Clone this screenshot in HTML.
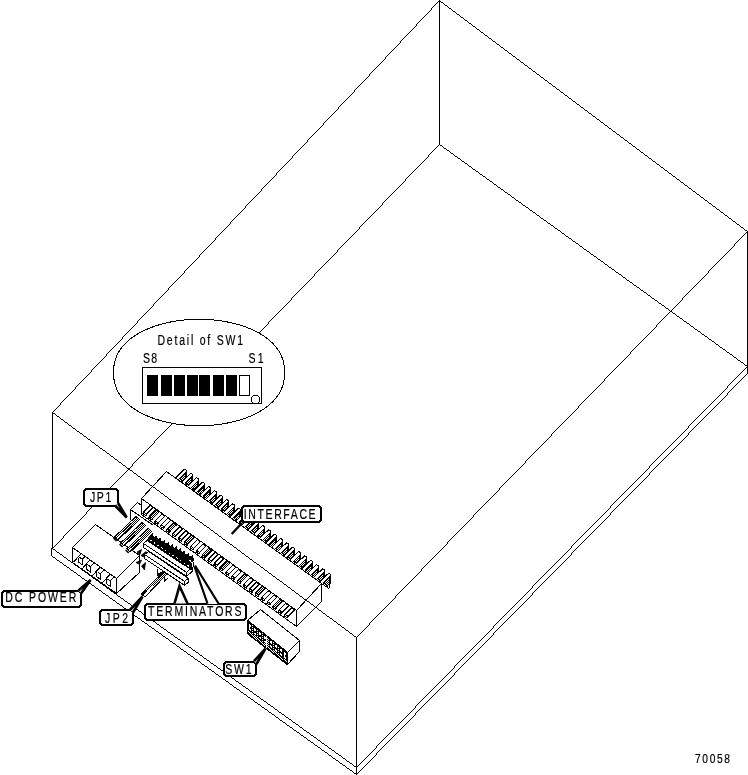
<!DOCTYPE html>
<html><head><meta charset="utf-8">
<style>
html,body{margin:0;padding:0;background:#fff;}
body{width:748px;height:775px;overflow:hidden;}
svg{display:block;will-change:transform;}
text{font-family:"Liberation Sans",sans-serif;fill:#000;stroke:#000;stroke-width:0.2px;}
</style></head>
<body>
<svg width="748" height="775" viewBox="0 0 748 775">
<defs>
<pattern id="dith" width="2" height="2" patternUnits="userSpaceOnUse"><rect width="2" height="2" fill="#fff"/><rect width="1" height="1" fill="#000"/><rect x="1" y="1" width="1" height="1" fill="#000"/></pattern>
</defs>
<rect width="748" height="775" fill="#fff"/>
<path fill="#000" d="M439 0h1v1h-1zM438 1h3v1h-3zM437 2h1v1h-1zM439 2h1v1h-1zM441 2h2v1h-2zM436 3h1v1h-1zM439 3h1v1h-1zM443 3h1v1h-1zM435 4h1v1h-1zM439 4h1v1h-1zM444 4h1v1h-1zM434 5h1v1h-1zM439 5h1v1h-1zM445 5h2v1h-2zM433 6h1v1h-1zM439 6h1v1h-1zM447 6h1v1h-1zM432 7h1v1h-1zM439 7h1v1h-1zM448 7h1v1h-1zM431 8h1v1h-1zM439 8h1v1h-1zM449 8h2v1h-2zM431 9h1v1h-1zM439 9h1v1h-1zM451 9h1v1h-1zM430 10h1v1h-1zM439 10h1v1h-1zM452 10h1v1h-1zM429 11h1v1h-1zM439 11h1v1h-1zM453 11h2v1h-2zM428 12h1v1h-1zM439 12h1v1h-1zM455 12h1v1h-1zM427 13h1v1h-1zM439 13h1v1h-1zM456 13h1v1h-1zM426 14h1v1h-1zM439 14h1v1h-1zM457 14h2v1h-2zM425 15h1v1h-1zM439 15h1v1h-1zM459 15h1v1h-1zM424 16h1v1h-1zM439 16h1v1h-1zM460 16h1v1h-1zM423 17h1v1h-1zM439 17h1v1h-1zM461 17h2v1h-2zM422 18h1v1h-1zM439 18h1v1h-1zM463 18h1v1h-1zM421 19h1v1h-1zM439 19h1v1h-1zM464 19h1v1h-1zM420 20h1v1h-1zM439 20h1v1h-1zM465 20h2v1h-2zM419 21h1v1h-1zM439 21h1v1h-1zM467 21h1v1h-1zM418 22h1v1h-1zM439 22h1v1h-1zM468 22h1v1h-1zM417 23h1v1h-1zM439 23h1v1h-1zM469 23h2v1h-2zM416 24h1v1h-1zM439 24h1v1h-1zM471 24h1v1h-1zM416 25h1v1h-1zM439 25h1v1h-1zM472 25h1v1h-1zM415 26h1v1h-1zM439 26h1v1h-1zM473 26h2v1h-2zM414 27h1v1h-1zM439 27h1v1h-1zM475 27h1v1h-1zM413 28h1v1h-1zM439 28h1v1h-1zM476 28h1v1h-1zM412 29h1v1h-1zM439 29h1v1h-1zM477 29h2v1h-2zM411 30h1v1h-1zM439 30h1v1h-1zM479 30h1v1h-1zM410 31h1v1h-1zM439 31h1v1h-1zM480 31h1v1h-1zM409 32h1v1h-1zM439 32h1v1h-1zM481 32h2v1h-2zM408 33h1v1h-1zM439 33h1v1h-1zM483 33h1v1h-1zM407 34h1v1h-1zM439 34h1v1h-1zM484 34h1v1h-1zM406 35h1v1h-1zM439 35h1v1h-1zM485 35h2v1h-2zM405 36h1v1h-1zM439 36h1v1h-1zM487 36h1v1h-1zM404 37h1v1h-1zM439 37h1v1h-1zM488 37h1v1h-1zM403 38h1v1h-1zM439 38h1v1h-1zM489 38h2v1h-2zM402 39h1v1h-1zM439 39h1v1h-1zM491 39h1v1h-1zM401 40h1v1h-1zM439 40h1v1h-1zM492 40h1v1h-1zM400 41h1v1h-1zM439 41h1v1h-1zM493 41h2v1h-2zM400 42h1v1h-1zM439 42h1v1h-1zM495 42h1v1h-1zM399 43h1v1h-1zM439 43h1v1h-1zM496 43h1v1h-1zM398 44h1v1h-1zM439 44h1v1h-1zM497 44h2v1h-2zM397 45h1v1h-1zM439 45h1v1h-1zM499 45h1v1h-1zM396 46h1v1h-1zM439 46h1v1h-1zM500 46h1v1h-1zM395 47h1v1h-1zM439 47h1v1h-1zM501 47h2v1h-2zM394 48h1v1h-1zM439 48h1v1h-1zM503 48h1v1h-1zM393 49h1v1h-1zM439 49h1v1h-1zM504 49h1v1h-1zM392 50h1v1h-1zM439 50h1v1h-1zM505 50h2v1h-2zM391 51h1v1h-1zM439 51h1v1h-1zM507 51h1v1h-1zM390 52h1v1h-1zM439 52h1v1h-1zM508 52h1v1h-1zM389 53h1v1h-1zM439 53h1v1h-1zM509 53h2v1h-2zM388 54h1v1h-1zM439 54h1v1h-1zM511 54h1v1h-1zM387 55h1v1h-1zM439 55h1v1h-1zM512 55h1v1h-1zM386 56h1v1h-1zM439 56h1v1h-1zM513 56h2v1h-2zM385 57h1v1h-1zM439 57h1v1h-1zM515 57h1v1h-1zM385 58h1v1h-1zM439 58h1v1h-1zM516 58h1v1h-1zM384 59h1v1h-1zM439 59h1v1h-1zM517 59h2v1h-2zM383 60h1v1h-1zM439 60h1v1h-1zM519 60h1v1h-1zM382 61h1v1h-1zM439 61h1v1h-1zM520 61h1v1h-1zM381 62h1v1h-1zM439 62h1v1h-1zM521 62h2v1h-2zM380 63h1v1h-1zM439 63h1v1h-1zM523 63h1v1h-1zM379 64h1v1h-1zM439 64h1v1h-1zM524 64h1v1h-1zM378 65h1v1h-1zM439 65h1v1h-1zM525 65h2v1h-2zM377 66h1v1h-1zM439 66h1v1h-1zM527 66h1v1h-1zM376 67h1v1h-1zM439 67h1v1h-1zM528 67h1v1h-1zM375 68h1v1h-1zM439 68h1v1h-1zM529 68h2v1h-2zM374 69h1v1h-1zM439 69h1v1h-1zM531 69h1v1h-1zM373 70h1v1h-1zM439 70h1v1h-1zM532 70h1v1h-1zM372 71h1v1h-1zM439 71h1v1h-1zM533 71h2v1h-2zM371 72h1v1h-1zM439 72h1v1h-1zM535 72h1v1h-1zM370 73h1v1h-1zM439 73h1v1h-1zM536 73h1v1h-1zM369 74h1v1h-1zM439 74h1v1h-1zM537 74h2v1h-2zM369 75h1v1h-1zM439 75h1v1h-1zM539 75h1v1h-1zM368 76h1v1h-1zM439 76h1v1h-1zM540 76h1v1h-1zM367 77h1v1h-1zM439 77h1v1h-1zM541 77h2v1h-2zM366 78h1v1h-1zM439 78h1v1h-1zM543 78h1v1h-1zM365 79h1v1h-1zM439 79h1v1h-1zM544 79h1v1h-1zM364 80h1v1h-1zM439 80h1v1h-1zM545 80h2v1h-2zM363 81h1v1h-1zM439 81h1v1h-1zM547 81h1v1h-1zM362 82h1v1h-1zM439 82h1v1h-1zM548 82h1v1h-1zM361 83h1v1h-1zM439 83h1v1h-1zM549 83h2v1h-2zM360 84h1v1h-1zM439 84h1v1h-1zM551 84h1v1h-1zM359 85h1v1h-1zM439 85h1v1h-1zM552 85h1v1h-1zM358 86h1v1h-1zM439 86h1v1h-1zM553 86h2v1h-2zM357 87h1v1h-1zM439 87h1v1h-1zM555 87h1v1h-1zM356 88h1v1h-1zM439 88h1v1h-1zM556 88h1v1h-1zM355 89h1v1h-1zM439 89h1v1h-1zM557 89h2v1h-2zM354 90h1v1h-1zM439 90h1v1h-1zM559 90h1v1h-1zM354 91h1v1h-1zM439 91h1v1h-1zM560 91h1v1h-1zM353 92h1v1h-1zM439 92h1v1h-1zM561 92h2v1h-2zM352 93h1v1h-1zM439 93h1v1h-1zM563 93h1v1h-1zM351 94h1v1h-1zM439 94h1v1h-1zM564 94h1v1h-1zM350 95h1v1h-1zM439 95h1v1h-1zM565 95h2v1h-2zM349 96h1v1h-1zM439 96h1v1h-1zM567 96h1v1h-1zM348 97h1v1h-1zM439 97h1v1h-1zM568 97h1v1h-1zM347 98h1v1h-1zM439 98h1v1h-1zM569 98h2v1h-2zM346 99h1v1h-1zM439 99h1v1h-1zM571 99h1v1h-1zM345 100h1v1h-1zM439 100h1v1h-1zM572 100h1v1h-1zM344 101h1v1h-1zM439 101h1v1h-1zM573 101h2v1h-2zM343 102h1v1h-1zM439 102h1v1h-1zM575 102h1v1h-1zM342 103h1v1h-1zM439 103h1v1h-1zM576 103h1v1h-1zM341 104h1v1h-1zM439 104h1v1h-1zM577 104h2v1h-2zM340 105h1v1h-1zM439 105h1v1h-1zM579 105h1v1h-1zM339 106h1v1h-1zM439 106h1v1h-1zM580 106h1v1h-1zM338 107h1v1h-1zM439 107h1v1h-1zM581 107h2v1h-2zM338 108h1v1h-1zM439 108h1v1h-1zM583 108h1v1h-1zM337 109h1v1h-1zM439 109h1v1h-1zM584 109h1v1h-1zM336 110h1v1h-1zM439 110h1v1h-1zM585 110h2v1h-2zM335 111h1v1h-1zM439 111h1v1h-1zM587 111h1v1h-1zM334 112h1v1h-1zM439 112h1v1h-1zM588 112h1v1h-1zM333 113h1v1h-1zM439 113h1v1h-1zM589 113h2v1h-2zM332 114h1v1h-1zM439 114h1v1h-1zM591 114h1v1h-1zM331 115h1v1h-1zM439 115h1v1h-1zM592 115h1v1h-1zM330 116h1v1h-1zM439 116h1v1h-1zM593 116h2v1h-2zM329 117h1v1h-1zM439 117h1v1h-1zM595 117h1v1h-1zM328 118h1v1h-1zM439 118h1v1h-1zM596 118h1v1h-1zM327 119h1v1h-1zM439 119h1v1h-1zM597 119h2v1h-2zM326 120h1v1h-1zM439 120h1v1h-1zM599 120h1v1h-1zM325 121h1v1h-1zM439 121h1v1h-1zM600 121h1v1h-1zM324 122h1v1h-1zM439 122h1v1h-1zM601 122h2v1h-2zM323 123h1v1h-1zM439 123h1v1h-1zM603 123h1v1h-1zM323 124h1v1h-1zM439 124h1v1h-1zM604 124h1v1h-1zM322 125h1v1h-1zM439 125h1v1h-1zM605 125h2v1h-2zM321 126h1v1h-1zM439 126h1v1h-1zM607 126h1v1h-1zM320 127h1v1h-1zM439 127h1v1h-1zM608 127h1v1h-1zM319 128h1v1h-1zM439 128h1v1h-1zM609 128h2v1h-2zM318 129h1v1h-1zM439 129h1v1h-1zM611 129h1v1h-1zM317 130h1v1h-1zM439 130h1v1h-1zM612 130h1v1h-1zM316 131h1v1h-1zM439 131h1v1h-1zM613 131h2v1h-2zM315 132h1v1h-1zM439 132h1v1h-1zM615 132h1v1h-1zM314 133h1v1h-1zM439 133h1v1h-1zM616 133h1v1h-1zM313 134h1v1h-1zM439 134h1v1h-1zM617 134h2v1h-2zM312 135h1v1h-1zM439 135h1v1h-1zM619 135h1v1h-1zM311 136h1v1h-1zM439 136h1v1h-1zM620 136h1v1h-1zM310 137h1v1h-1zM439 137h1v1h-1zM621 137h2v1h-2zM309 138h1v1h-1zM439 138h1v1h-1zM623 138h1v1h-1zM308 139h1v1h-1zM439 139h1v1h-1zM624 139h1v1h-1zM307 140h1v1h-1zM439 140h1v1h-1zM625 140h2v1h-2zM307 141h1v1h-1zM439 141h1v1h-1zM627 141h1v1h-1zM306 142h1v1h-1zM439 142h1v1h-1zM628 142h1v1h-1zM305 143h1v1h-1zM439 143h1v1h-1zM629 143h2v1h-2zM304 144h1v1h-1zM439 144h1v1h-1zM631 144h1v1h-1zM303 145h1v1h-1zM438 145h1v1h-1zM440 145h2v1h-2zM632 145h1v1h-1zM302 146h1v1h-1zM437 146h1v1h-1zM442 146h1v1h-1zM633 146h2v1h-2zM301 147h1v1h-1zM436 147h1v1h-1zM443 147h1v1h-1zM635 147h1v1h-1zM300 148h1v1h-1zM435 148h1v1h-1zM444 148h2v1h-2zM636 148h1v1h-1zM299 149h1v1h-1zM434 149h1v1h-1zM446 149h1v1h-1zM637 149h2v1h-2zM298 150h1v1h-1zM433 150h1v1h-1zM447 150h2v1h-2zM639 150h1v1h-1zM297 151h1v1h-1zM432 151h1v1h-1zM449 151h1v1h-1zM640 151h1v1h-1zM296 152h1v1h-1zM431 152h1v1h-1zM450 152h1v1h-1zM641 152h2v1h-2zM295 153h1v1h-1zM430 153h1v1h-1zM451 153h2v1h-2zM643 153h1v1h-1zM294 154h1v1h-1zM429 154h1v1h-1zM453 154h1v1h-1zM644 154h1v1h-1zM293 155h1v1h-1zM428 155h1v1h-1zM454 155h1v1h-1zM645 155h2v1h-2zM292 156h1v1h-1zM428 156h1v1h-1zM455 156h2v1h-2zM647 156h1v1h-1zM292 157h1v1h-1zM427 157h1v1h-1zM457 157h1v1h-1zM648 157h1v1h-1zM291 158h1v1h-1zM426 158h1v1h-1zM458 158h2v1h-2zM649 158h2v1h-2zM290 159h1v1h-1zM425 159h1v1h-1zM460 159h1v1h-1zM651 159h1v1h-1zM289 160h1v1h-1zM424 160h1v1h-1zM461 160h1v1h-1zM652 160h1v1h-1zM288 161h1v1h-1zM423 161h1v1h-1zM462 161h2v1h-2zM653 161h2v1h-2zM287 162h1v1h-1zM422 162h1v1h-1zM464 162h1v1h-1zM655 162h1v1h-1zM286 163h1v1h-1zM421 163h1v1h-1zM465 163h2v1h-2zM656 163h1v1h-1zM285 164h1v1h-1zM420 164h1v1h-1zM467 164h1v1h-1zM657 164h2v1h-2zM284 165h1v1h-1zM419 165h1v1h-1zM468 165h1v1h-1zM659 165h1v1h-1zM283 166h1v1h-1zM418 166h1v1h-1zM469 166h2v1h-2zM660 166h1v1h-1zM282 167h1v1h-1zM417 167h1v1h-1zM471 167h1v1h-1zM661 167h2v1h-2zM281 168h1v1h-1zM416 168h1v1h-1zM472 168h1v1h-1zM663 168h1v1h-1zM280 169h1v1h-1zM415 169h1v1h-1zM473 169h2v1h-2zM664 169h1v1h-1zM279 170h1v1h-1zM414 170h1v1h-1zM475 170h1v1h-1zM665 170h2v1h-2zM278 171h1v1h-1zM413 171h1v1h-1zM476 171h2v1h-2zM667 171h1v1h-1zM277 172h1v1h-1zM412 172h1v1h-1zM478 172h1v1h-1zM668 172h1v1h-1zM276 173h1v1h-1zM411 173h1v1h-1zM479 173h1v1h-1zM669 173h2v1h-2zM276 174h1v1h-1zM410 174h1v1h-1zM480 174h2v1h-2zM671 174h1v1h-1zM275 175h1v1h-1zM409 175h1v1h-1zM482 175h1v1h-1zM672 175h1v1h-1zM274 176h1v1h-1zM408 176h1v1h-1zM483 176h2v1h-2zM673 176h2v1h-2zM273 177h1v1h-1zM407 177h1v1h-1zM485 177h1v1h-1zM675 177h1v1h-1zM272 178h1v1h-1zM406 178h1v1h-1zM486 178h1v1h-1zM676 178h1v1h-1zM271 179h1v1h-1zM405 179h1v1h-1zM487 179h2v1h-2zM677 179h2v1h-2zM270 180h1v1h-1zM405 180h1v1h-1zM489 180h1v1h-1zM679 180h1v1h-1zM269 181h1v1h-1zM404 181h1v1h-1zM490 181h2v1h-2zM680 181h1v1h-1zM268 182h1v1h-1zM403 182h1v1h-1zM492 182h1v1h-1zM681 182h2v1h-2zM267 183h1v1h-1zM402 183h1v1h-1zM493 183h1v1h-1zM683 183h1v1h-1zM266 184h1v1h-1zM401 184h1v1h-1zM494 184h2v1h-2zM684 184h1v1h-1zM265 185h1v1h-1zM400 185h1v1h-1zM496 185h1v1h-1zM685 185h2v1h-2zM264 186h1v1h-1zM399 186h1v1h-1zM497 186h1v1h-1zM687 186h1v1h-1zM263 187h1v1h-1zM398 187h1v1h-1zM498 187h2v1h-2zM688 187h1v1h-1zM262 188h1v1h-1zM397 188h1v1h-1zM500 188h1v1h-1zM689 188h2v1h-2zM261 189h1v1h-1zM396 189h1v1h-1zM501 189h2v1h-2zM691 189h1v1h-1zM261 190h1v1h-1zM395 190h1v1h-1zM503 190h1v1h-1zM692 190h1v1h-1zM260 191h1v1h-1zM394 191h1v1h-1zM504 191h1v1h-1zM693 191h2v1h-2zM259 192h1v1h-1zM393 192h1v1h-1zM505 192h2v1h-2zM695 192h1v1h-1zM258 193h1v1h-1zM392 193h1v1h-1zM507 193h1v1h-1zM696 193h1v1h-1zM257 194h1v1h-1zM391 194h1v1h-1zM508 194h2v1h-2zM697 194h2v1h-2zM256 195h1v1h-1zM390 195h1v1h-1zM510 195h1v1h-1zM699 195h1v1h-1zM255 196h1v1h-1zM389 196h1v1h-1zM511 196h1v1h-1zM700 196h1v1h-1zM254 197h1v1h-1zM388 197h1v1h-1zM512 197h2v1h-2zM701 197h2v1h-2zM253 198h1v1h-1zM387 198h1v1h-1zM514 198h1v1h-1zM703 198h1v1h-1zM252 199h1v1h-1zM386 199h1v1h-1zM515 199h1v1h-1zM704 199h1v1h-1zM251 200h1v1h-1zM385 200h1v1h-1zM516 200h2v1h-2zM705 200h2v1h-2zM250 201h1v1h-1zM384 201h1v1h-1zM518 201h1v1h-1zM707 201h1v1h-1zM249 202h1v1h-1zM383 202h1v1h-1zM519 202h2v1h-2zM708 202h1v1h-1zM248 203h1v1h-1zM382 203h1v1h-1zM521 203h1v1h-1zM709 203h2v1h-2zM247 204h1v1h-1zM382 204h1v1h-1zM522 204h1v1h-1zM711 204h1v1h-1zM246 205h1v1h-1zM381 205h1v1h-1zM523 205h2v1h-2zM712 205h1v1h-1zM245 206h1v1h-1zM380 206h1v1h-1zM525 206h1v1h-1zM713 206h2v1h-2zM245 207h1v1h-1zM379 207h1v1h-1zM526 207h2v1h-2zM715 207h1v1h-1zM244 208h1v1h-1zM378 208h1v1h-1zM528 208h1v1h-1zM716 208h1v1h-1zM243 209h1v1h-1zM377 209h1v1h-1zM529 209h1v1h-1zM717 209h2v1h-2zM242 210h1v1h-1zM376 210h1v1h-1zM530 210h2v1h-2zM719 210h1v1h-1zM241 211h1v1h-1zM375 211h1v1h-1zM532 211h1v1h-1zM720 211h1v1h-1zM240 212h1v1h-1zM374 212h1v1h-1zM533 212h2v1h-2zM721 212h2v1h-2zM239 213h1v1h-1zM373 213h1v1h-1zM535 213h1v1h-1zM723 213h1v1h-1zM238 214h1v1h-1zM372 214h1v1h-1zM536 214h1v1h-1zM724 214h1v1h-1zM237 215h1v1h-1zM371 215h1v1h-1zM537 215h2v1h-2zM725 215h2v1h-2zM236 216h1v1h-1zM370 216h1v1h-1zM539 216h1v1h-1zM727 216h1v1h-1zM235 217h1v1h-1zM369 217h1v1h-1zM540 217h1v1h-1zM728 217h1v1h-1zM234 218h1v1h-1zM368 218h1v1h-1zM541 218h2v1h-2zM729 218h2v1h-2zM233 219h1v1h-1zM367 219h1v1h-1zM543 219h1v1h-1zM731 219h1v1h-1zM232 220h1v1h-1zM366 220h1v1h-1zM544 220h2v1h-2zM732 220h1v1h-1zM231 221h1v1h-1zM365 221h1v1h-1zM546 221h1v1h-1zM733 221h2v1h-2zM230 222h1v1h-1zM364 222h1v1h-1zM547 222h1v1h-1zM735 222h1v1h-1zM230 223h1v1h-1zM363 223h1v1h-1zM548 223h2v1h-2zM736 223h1v1h-1zM229 224h1v1h-1zM362 224h1v1h-1zM550 224h1v1h-1zM737 224h2v1h-2zM228 225h1v1h-1zM361 225h1v1h-1zM551 225h2v1h-2zM739 225h1v1h-1zM227 226h1v1h-1zM360 226h1v1h-1zM553 226h1v1h-1zM740 226h1v1h-1zM226 227h1v1h-1zM359 227h1v1h-1zM554 227h1v1h-1zM741 227h2v1h-2zM225 228h1v1h-1zM359 228h1v1h-1zM555 228h2v1h-2zM743 228h1v1h-1zM224 229h1v1h-1zM358 229h1v1h-1zM557 229h1v1h-1zM744 229h1v1h-1zM223 230h1v1h-1zM357 230h1v1h-1zM558 230h2v1h-2zM745 230h2v1h-2zM222 231h1v1h-1zM356 231h1v1h-1zM560 231h1v1h-1zM747 231h1v1h-1zM221 232h1v1h-1zM355 232h1v1h-1zM561 232h1v1h-1zM746 232h2v1h-2zM220 233h1v1h-1zM354 233h1v1h-1zM562 233h2v1h-2zM745 233h1v1h-1zM747 233h1v1h-1zM219 234h1v1h-1zM353 234h1v1h-1zM564 234h1v1h-1zM744 234h1v1h-1zM747 234h1v1h-1zM218 235h1v1h-1zM352 235h1v1h-1zM565 235h1v1h-1zM743 235h1v1h-1zM747 235h1v1h-1zM217 236h1v1h-1zM351 236h1v1h-1zM566 236h2v1h-2zM742 236h1v1h-1zM747 236h1v1h-1zM216 237h1v1h-1zM350 237h1v1h-1zM568 237h1v1h-1zM741 237h1v1h-1zM747 237h1v1h-1zM215 238h1v1h-1zM349 238h1v1h-1zM569 238h2v1h-2zM740 238h1v1h-1zM747 238h1v1h-1zM215 239h1v1h-1zM348 239h1v1h-1zM571 239h1v1h-1zM739 239h1v1h-1zM747 239h1v1h-1zM214 240h1v1h-1zM347 240h1v1h-1zM572 240h1v1h-1zM738 240h1v1h-1zM747 240h1v1h-1zM213 241h1v1h-1zM346 241h1v1h-1zM573 241h2v1h-2zM737 241h1v1h-1zM747 241h1v1h-1zM212 242h1v1h-1zM345 242h1v1h-1zM575 242h1v1h-1zM736 242h1v1h-1zM747 242h1v1h-1zM211 243h1v1h-1zM344 243h1v1h-1zM576 243h2v1h-2zM735 243h1v1h-1zM747 243h1v1h-1zM210 244h1v1h-1zM343 244h1v1h-1zM578 244h1v1h-1zM734 244h1v1h-1zM747 244h1v1h-1zM209 245h1v1h-1zM342 245h1v1h-1zM579 245h1v1h-1zM734 245h1v1h-1zM747 245h1v1h-1zM208 246h1v1h-1zM341 246h1v1h-1zM580 246h2v1h-2zM733 246h1v1h-1zM747 246h1v1h-1zM207 247h1v1h-1zM340 247h1v1h-1zM582 247h1v1h-1zM732 247h1v1h-1zM747 247h1v1h-1zM206 248h1v1h-1zM339 248h1v1h-1zM583 248h1v1h-1zM731 248h1v1h-1zM747 248h1v1h-1zM205 249h1v1h-1zM338 249h1v1h-1zM584 249h2v1h-2zM730 249h1v1h-1zM747 249h1v1h-1zM204 250h1v1h-1zM337 250h1v1h-1zM586 250h1v1h-1zM729 250h1v1h-1zM747 250h1v1h-1zM203 251h1v1h-1zM337 251h1v1h-1zM587 251h2v1h-2zM728 251h1v1h-1zM747 251h1v1h-1zM202 252h1v1h-1zM336 252h1v1h-1zM589 252h1v1h-1zM727 252h1v1h-1zM747 252h1v1h-1zM201 253h1v1h-1zM335 253h1v1h-1zM590 253h1v1h-1zM726 253h1v1h-1zM747 253h1v1h-1zM200 254h1v1h-1zM334 254h1v1h-1zM591 254h2v1h-2zM725 254h1v1h-1zM747 254h1v1h-1zM199 255h1v1h-1zM333 255h1v1h-1zM593 255h1v1h-1zM724 255h1v1h-1zM747 255h1v1h-1zM199 256h1v1h-1zM332 256h1v1h-1zM594 256h2v1h-2zM723 256h1v1h-1zM747 256h1v1h-1zM198 257h1v1h-1zM331 257h1v1h-1zM596 257h1v1h-1zM722 257h1v1h-1zM747 257h1v1h-1zM197 258h1v1h-1zM330 258h1v1h-1zM597 258h1v1h-1zM721 258h1v1h-1zM747 258h1v1h-1zM196 259h1v1h-1zM329 259h1v1h-1zM598 259h2v1h-2zM720 259h1v1h-1zM747 259h1v1h-1zM195 260h1v1h-1zM328 260h1v1h-1zM600 260h1v1h-1zM719 260h1v1h-1zM747 260h1v1h-1zM194 261h1v1h-1zM327 261h1v1h-1zM601 261h2v1h-2zM718 261h1v1h-1zM747 261h1v1h-1zM193 262h1v1h-1zM326 262h1v1h-1zM603 262h1v1h-1zM717 262h1v1h-1zM747 262h1v1h-1zM192 263h1v1h-1zM325 263h1v1h-1zM604 263h1v1h-1zM716 263h1v1h-1zM747 263h1v1h-1zM191 264h1v1h-1zM324 264h1v1h-1zM605 264h2v1h-2zM715 264h1v1h-1zM747 264h1v1h-1zM190 265h1v1h-1zM323 265h1v1h-1zM607 265h1v1h-1zM714 265h1v1h-1zM747 265h1v1h-1zM189 266h1v1h-1zM322 266h1v1h-1zM608 266h1v1h-1zM713 266h1v1h-1zM747 266h1v1h-1zM188 267h1v1h-1zM321 267h1v1h-1zM609 267h2v1h-2zM712 267h1v1h-1zM747 267h1v1h-1zM187 268h1v1h-1zM320 268h1v1h-1zM611 268h1v1h-1zM711 268h1v1h-1zM747 268h1v1h-1zM186 269h1v1h-1zM319 269h1v1h-1zM612 269h2v1h-2zM710 269h1v1h-1zM747 269h1v1h-1zM185 270h1v1h-1zM318 270h1v1h-1zM614 270h1v1h-1zM709 270h1v1h-1zM747 270h1v1h-1zM184 271h1v1h-1zM317 271h1v1h-1zM615 271h1v1h-1zM708 271h1v1h-1zM747 271h1v1h-1zM184 272h1v1h-1zM316 272h1v1h-1zM616 272h2v1h-2zM708 272h1v1h-1zM747 272h1v1h-1zM183 273h1v1h-1zM315 273h1v1h-1zM618 273h1v1h-1zM707 273h1v1h-1zM747 273h1v1h-1zM182 274h1v1h-1zM314 274h1v1h-1zM619 274h2v1h-2zM706 274h1v1h-1zM747 274h1v1h-1zM181 275h1v1h-1zM314 275h1v1h-1zM621 275h1v1h-1zM705 275h1v1h-1zM747 275h1v1h-1zM180 276h1v1h-1zM313 276h1v1h-1zM622 276h1v1h-1zM704 276h1v1h-1zM747 276h1v1h-1zM179 277h1v1h-1zM312 277h1v1h-1zM623 277h2v1h-2zM703 277h1v1h-1zM747 277h1v1h-1zM178 278h1v1h-1zM311 278h1v1h-1zM625 278h1v1h-1zM702 278h1v1h-1zM747 278h1v1h-1zM177 279h1v1h-1zM310 279h1v1h-1zM626 279h1v1h-1zM701 279h1v1h-1zM747 279h1v1h-1zM176 280h1v1h-1zM309 280h1v1h-1zM627 280h2v1h-2zM700 280h1v1h-1zM747 280h1v1h-1zM175 281h1v1h-1zM308 281h1v1h-1zM629 281h1v1h-1zM699 281h1v1h-1zM747 281h1v1h-1zM174 282h1v1h-1zM307 282h1v1h-1zM630 282h2v1h-2zM698 282h1v1h-1zM747 282h1v1h-1zM173 283h1v1h-1zM306 283h1v1h-1zM632 283h1v1h-1zM697 283h1v1h-1zM747 283h1v1h-1zM172 284h1v1h-1zM305 284h1v1h-1zM633 284h1v1h-1zM696 284h1v1h-1zM747 284h1v1h-1zM171 285h1v1h-1zM304 285h1v1h-1zM634 285h2v1h-2zM695 285h1v1h-1zM747 285h1v1h-1zM170 286h1v1h-1zM303 286h1v1h-1zM636 286h1v1h-1zM694 286h1v1h-1zM747 286h1v1h-1zM169 287h1v1h-1zM302 287h1v1h-1zM637 287h2v1h-2zM693 287h1v1h-1zM747 287h1v1h-1zM168 288h1v1h-1zM301 288h1v1h-1zM639 288h1v1h-1zM692 288h1v1h-1zM747 288h1v1h-1zM168 289h1v1h-1zM300 289h1v1h-1zM640 289h1v1h-1zM691 289h1v1h-1zM747 289h1v1h-1zM167 290h1v1h-1zM299 290h1v1h-1zM641 290h2v1h-2zM690 290h1v1h-1zM747 290h1v1h-1zM166 291h1v1h-1zM298 291h1v1h-1zM643 291h1v1h-1zM689 291h1v1h-1zM747 291h1v1h-1zM165 292h1v1h-1zM297 292h1v1h-1zM644 292h2v1h-2zM688 292h1v1h-1zM747 292h1v1h-1zM164 293h1v1h-1zM296 293h1v1h-1zM646 293h1v1h-1zM687 293h1v1h-1zM747 293h1v1h-1zM163 294h1v1h-1zM295 294h1v1h-1zM647 294h1v1h-1zM686 294h1v1h-1zM747 294h1v1h-1zM162 295h1v1h-1zM294 295h1v1h-1zM648 295h2v1h-2zM685 295h1v1h-1zM747 295h1v1h-1zM161 296h1v1h-1zM293 296h1v1h-1zM650 296h1v1h-1zM684 296h1v1h-1zM747 296h1v1h-1zM160 297h1v1h-1zM292 297h1v1h-1zM651 297h1v1h-1zM683 297h1v1h-1zM747 297h1v1h-1zM159 298h1v1h-1zM291 298h1v1h-1zM652 298h2v1h-2zM682 298h1v1h-1zM747 298h1v1h-1zM158 299h1v1h-1zM291 299h1v1h-1zM654 299h1v1h-1zM682 299h1v1h-1zM747 299h1v1h-1zM157 300h1v1h-1zM290 300h1v1h-1zM655 300h2v1h-2zM681 300h1v1h-1zM747 300h1v1h-1zM156 301h1v1h-1zM289 301h1v1h-1zM657 301h1v1h-1zM680 301h1v1h-1zM747 301h1v1h-1zM155 302h1v1h-1zM288 302h1v1h-1zM658 302h1v1h-1zM679 302h1v1h-1zM747 302h1v1h-1zM154 303h1v1h-1zM287 303h1v1h-1zM659 303h2v1h-2zM678 303h1v1h-1zM747 303h1v1h-1zM153 304h1v1h-1zM286 304h1v1h-1zM661 304h1v1h-1zM677 304h1v1h-1zM747 304h1v1h-1zM153 305h1v1h-1zM285 305h1v1h-1zM662 305h2v1h-2zM676 305h1v1h-1zM747 305h1v1h-1zM152 306h1v1h-1zM284 306h1v1h-1zM664 306h1v1h-1zM675 306h1v1h-1zM747 306h1v1h-1zM151 307h1v1h-1zM283 307h1v1h-1zM665 307h1v1h-1zM674 307h1v1h-1zM747 307h1v1h-1zM150 308h1v1h-1zM282 308h1v1h-1zM666 308h2v1h-2zM673 308h1v1h-1zM747 308h1v1h-1zM149 309h1v1h-1zM281 309h1v1h-1zM668 309h1v1h-1zM672 309h1v1h-1zM747 309h1v1h-1zM148 310h1v1h-1zM280 310h1v1h-1zM669 310h1v1h-1zM671 310h1v1h-1zM747 310h1v1h-1zM147 311h1v1h-1zM279 311h1v1h-1zM670 311h2v1h-2zM747 311h1v1h-1zM146 312h1v1h-1zM278 312h1v1h-1zM669 312h1v1h-1zM672 312h1v1h-1zM747 312h1v1h-1zM145 313h1v1h-1zM277 313h1v1h-1zM668 313h1v1h-1zM673 313h2v1h-2zM747 313h1v1h-1zM144 314h1v1h-1zM276 314h1v1h-1zM667 314h1v1h-1zM675 314h1v1h-1zM747 314h1v1h-1zM143 315h1v1h-1zM275 315h1v1h-1zM666 315h1v1h-1zM676 315h1v1h-1zM747 315h1v1h-1zM142 316h1v1h-1zM274 316h1v1h-1zM665 316h1v1h-1zM677 316h2v1h-2zM747 316h1v1h-1zM141 317h1v1h-1zM273 317h1v1h-1zM664 317h1v1h-1zM679 317h1v1h-1zM747 317h1v1h-1zM140 318h1v1h-1zM272 318h1v1h-1zM663 318h1v1h-1zM680 318h2v1h-2zM747 318h1v1h-1zM139 319h1v1h-1zM271 319h1v1h-1zM662 319h1v1h-1zM682 319h1v1h-1zM747 319h1v1h-1zM138 320h1v1h-1zM270 320h1v1h-1zM661 320h1v1h-1zM683 320h1v1h-1zM747 320h1v1h-1zM137 321h1v1h-1zM269 321h1v1h-1zM660 321h1v1h-1zM684 321h2v1h-2zM747 321h1v1h-1zM137 322h1v1h-1zM268 322h1v1h-1zM659 322h1v1h-1zM686 322h1v1h-1zM747 322h1v1h-1zM136 323h1v1h-1zM268 323h1v1h-1zM658 323h1v1h-1zM687 323h2v1h-2zM747 323h1v1h-1zM135 324h1v1h-1zM267 324h1v1h-1zM657 324h1v1h-1zM689 324h1v1h-1zM747 324h1v1h-1zM134 325h1v1h-1zM266 325h1v1h-1zM656 325h1v1h-1zM690 325h1v1h-1zM747 325h1v1h-1zM133 326h1v1h-1zM265 326h1v1h-1zM656 326h1v1h-1zM691 326h2v1h-2zM747 326h1v1h-1zM132 327h1v1h-1zM264 327h1v1h-1zM655 327h1v1h-1zM693 327h1v1h-1zM747 327h1v1h-1zM131 328h1v1h-1zM263 328h1v1h-1zM654 328h1v1h-1zM694 328h1v1h-1zM747 328h1v1h-1zM130 329h1v1h-1zM262 329h1v1h-1zM653 329h1v1h-1zM695 329h2v1h-2zM747 329h1v1h-1zM129 330h1v1h-1zM261 330h1v1h-1zM652 330h1v1h-1zM697 330h1v1h-1zM747 330h1v1h-1zM128 331h1v1h-1zM260 331h1v1h-1zM651 331h1v1h-1zM698 331h2v1h-2zM747 331h1v1h-1zM127 332h1v1h-1zM259 332h1v1h-1zM650 332h1v1h-1zM700 332h1v1h-1zM747 332h1v1h-1zM126 333h1v1h-1zM258 333h1v1h-1zM649 333h1v1h-1zM701 333h1v1h-1zM747 333h1v1h-1zM125 334h1v1h-1zM257 334h1v1h-1zM648 334h1v1h-1zM702 334h2v1h-2zM747 334h1v1h-1zM124 335h1v1h-1zM256 335h1v1h-1zM647 335h1v1h-1zM704 335h1v1h-1zM747 335h1v1h-1zM123 336h1v1h-1zM255 336h1v1h-1zM646 336h1v1h-1zM705 336h2v1h-2zM747 336h1v1h-1zM122 337h1v1h-1zM254 337h1v1h-1zM645 337h1v1h-1zM707 337h1v1h-1zM747 337h1v1h-1zM122 338h1v1h-1zM253 338h1v1h-1zM644 338h1v1h-1zM708 338h1v1h-1zM747 338h1v1h-1zM121 339h1v1h-1zM252 339h1v1h-1zM643 339h1v1h-1zM709 339h2v1h-2zM747 339h1v1h-1zM120 340h1v1h-1zM251 340h1v1h-1zM642 340h1v1h-1zM711 340h1v1h-1zM747 340h1v1h-1zM119 341h1v1h-1zM250 341h1v1h-1zM641 341h1v1h-1zM712 341h2v1h-2zM747 341h1v1h-1zM118 342h1v1h-1zM249 342h1v1h-1zM640 342h1v1h-1zM714 342h1v1h-1zM747 342h1v1h-1zM117 343h1v1h-1zM248 343h1v1h-1zM639 343h1v1h-1zM715 343h1v1h-1zM747 343h1v1h-1zM116 344h1v1h-1zM247 344h1v1h-1zM638 344h1v1h-1zM716 344h2v1h-2zM747 344h1v1h-1zM115 345h1v1h-1zM246 345h1v1h-1zM637 345h1v1h-1zM718 345h1v1h-1zM747 345h1v1h-1zM114 346h1v1h-1zM245 346h1v1h-1zM636 346h1v1h-1zM719 346h1v1h-1zM747 346h1v1h-1zM113 347h1v1h-1zM245 347h1v1h-1zM635 347h1v1h-1zM720 347h2v1h-2zM747 347h1v1h-1zM112 348h1v1h-1zM244 348h1v1h-1zM634 348h1v1h-1zM722 348h1v1h-1zM747 348h1v1h-1zM111 349h1v1h-1zM243 349h1v1h-1zM633 349h1v1h-1zM723 349h2v1h-2zM747 349h1v1h-1zM110 350h1v1h-1zM242 350h1v1h-1zM632 350h1v1h-1zM725 350h1v1h-1zM747 350h1v1h-1zM109 351h1v1h-1zM241 351h1v1h-1zM631 351h1v1h-1zM726 351h1v1h-1zM747 351h1v1h-1zM108 352h1v1h-1zM240 352h1v1h-1zM630 352h1v1h-1zM727 352h2v1h-2zM747 352h1v1h-1zM107 353h1v1h-1zM239 353h1v1h-1zM630 353h1v1h-1zM729 353h1v1h-1zM747 353h1v1h-1zM106 354h1v1h-1zM238 354h1v1h-1zM629 354h1v1h-1zM730 354h2v1h-2zM747 354h1v1h-1zM106 355h1v1h-1zM237 355h1v1h-1zM628 355h1v1h-1zM732 355h1v1h-1zM747 355h1v1h-1zM105 356h1v1h-1zM236 356h1v1h-1zM627 356h1v1h-1zM733 356h1v1h-1zM747 356h1v1h-1zM104 357h1v1h-1zM235 357h1v1h-1zM626 357h1v1h-1zM734 357h2v1h-2zM747 357h1v1h-1zM103 358h1v1h-1zM234 358h1v1h-1zM625 358h1v1h-1zM736 358h1v1h-1zM747 358h1v1h-1zM102 359h1v1h-1zM233 359h1v1h-1zM624 359h1v1h-1zM737 359h1v1h-1zM747 359h1v1h-1zM101 360h1v1h-1zM232 360h1v1h-1zM623 360h1v1h-1zM738 360h2v1h-2zM747 360h1v1h-1zM100 361h1v1h-1zM231 361h1v1h-1zM622 361h1v1h-1zM740 361h1v1h-1zM747 361h1v1h-1zM99 362h1v1h-1zM230 362h1v1h-1zM621 362h1v1h-1zM741 362h2v1h-2zM747 362h1v1h-1zM98 363h1v1h-1zM229 363h1v1h-1zM620 363h1v1h-1zM743 363h1v1h-1zM747 363h1v1h-1zM97 364h1v1h-1zM228 364h1v1h-1zM619 364h1v1h-1zM744 364h1v1h-1zM747 364h1v1h-1zM96 365h1v1h-1zM227 365h1v1h-1zM618 365h1v1h-1zM745 365h3v1h-3zM95 366h1v1h-1zM226 366h1v1h-1zM617 366h1v1h-1zM747 366h1v1h-1zM94 367h1v1h-1zM225 367h1v1h-1zM616 367h1v1h-1zM746 367h2v1h-2zM93 368h1v1h-1zM224 368h1v1h-1zM615 368h1v1h-1zM745 368h1v1h-1zM747 368h1v1h-1zM92 369h1v1h-1zM223 369h1v1h-1zM614 369h1v1h-1zM744 369h1v1h-1zM747 369h1v1h-1zM91 370h1v1h-1zM223 370h1v1h-1zM613 370h1v1h-1zM743 370h1v1h-1zM747 370h1v1h-1zM91 371h1v1h-1zM222 371h1v1h-1zM612 371h1v1h-1zM742 371h1v1h-1zM747 371h1v1h-1zM90 372h1v1h-1zM221 372h1v1h-1zM611 372h1v1h-1zM741 372h1v1h-1zM747 372h1v1h-1zM89 373h1v1h-1zM220 373h1v1h-1zM610 373h1v1h-1zM740 373h1v1h-1zM747 373h1v1h-1zM88 374h1v1h-1zM219 374h1v1h-1zM609 374h1v1h-1zM739 374h1v1h-1zM746 374h1v1h-1zM87 375h1v1h-1zM218 375h1v1h-1zM608 375h1v1h-1zM738 375h1v1h-1zM745 375h1v1h-1zM86 376h1v1h-1zM217 376h1v1h-1zM607 376h1v1h-1zM737 376h1v1h-1zM744 376h1v1h-1zM85 377h1v1h-1zM216 377h1v1h-1zM606 377h1v1h-1zM736 377h1v1h-1zM743 377h1v1h-1zM84 378h1v1h-1zM215 378h1v1h-1zM605 378h1v1h-1zM735 378h1v1h-1zM742 378h1v1h-1zM83 379h1v1h-1zM214 379h1v1h-1zM604 379h1v1h-1zM734 379h1v1h-1zM741 379h1v1h-1zM82 380h1v1h-1zM213 380h1v1h-1zM604 380h1v1h-1zM733 380h1v1h-1zM740 380h1v1h-1zM81 381h1v1h-1zM212 381h1v1h-1zM603 381h1v1h-1zM732 381h1v1h-1zM739 381h1v1h-1zM80 382h1v1h-1zM211 382h1v1h-1zM602 382h1v1h-1zM731 382h1v1h-1zM738 382h1v1h-1zM79 383h1v1h-1zM210 383h1v1h-1zM601 383h1v1h-1zM730 383h1v1h-1zM737 383h1v1h-1zM78 384h1v1h-1zM209 384h1v1h-1zM600 384h1v1h-1zM729 384h1v1h-1zM736 384h1v1h-1zM77 385h1v1h-1zM208 385h1v1h-1zM599 385h1v1h-1zM728 385h1v1h-1zM735 385h1v1h-1zM76 386h1v1h-1zM207 386h1v1h-1zM598 386h1v1h-1zM727 386h1v1h-1zM734 386h1v1h-1zM75 387h1v1h-1zM206 387h1v1h-1zM597 387h1v1h-1zM727 387h1v1h-1zM733 387h1v1h-1zM75 388h1v1h-1zM205 388h1v1h-1zM596 388h1v1h-1zM726 388h1v1h-1zM732 388h1v1h-1zM74 389h1v1h-1zM204 389h1v1h-1zM595 389h1v1h-1zM725 389h1v1h-1zM731 389h1v1h-1zM73 390h1v1h-1zM203 390h1v1h-1zM594 390h1v1h-1zM724 390h1v1h-1zM730 390h1v1h-1zM72 391h1v1h-1zM202 391h1v1h-1zM593 391h1v1h-1zM723 391h1v1h-1zM729 391h1v1h-1zM71 392h1v1h-1zM201 392h1v1h-1zM592 392h1v1h-1zM722 392h1v1h-1zM728 392h1v1h-1zM70 393h1v1h-1zM200 393h1v1h-1zM591 393h1v1h-1zM721 393h1v1h-1zM727 393h1v1h-1zM69 394h1v1h-1zM200 394h1v1h-1zM590 394h1v1h-1zM720 394h1v1h-1zM727 394h1v1h-1zM68 395h1v1h-1zM199 395h1v1h-1zM589 395h1v1h-1zM719 395h1v1h-1zM726 395h1v1h-1zM67 396h1v1h-1zM198 396h1v1h-1zM588 396h1v1h-1zM718 396h1v1h-1zM725 396h1v1h-1zM66 397h1v1h-1zM197 397h1v1h-1zM587 397h1v1h-1zM717 397h1v1h-1zM724 397h1v1h-1zM65 398h1v1h-1zM196 398h1v1h-1zM586 398h1v1h-1zM716 398h1v1h-1zM723 398h1v1h-1zM64 399h1v1h-1zM195 399h1v1h-1zM585 399h1v1h-1zM715 399h1v1h-1zM722 399h1v1h-1zM63 400h1v1h-1zM194 400h1v1h-1zM584 400h1v1h-1zM714 400h1v1h-1zM721 400h1v1h-1zM62 401h1v1h-1zM193 401h1v1h-1zM583 401h1v1h-1zM713 401h1v1h-1zM720 401h1v1h-1zM61 402h1v1h-1zM192 402h1v1h-1zM582 402h1v1h-1zM712 402h1v1h-1zM719 402h1v1h-1zM60 403h1v1h-1zM191 403h1v1h-1zM581 403h1v1h-1zM711 403h1v1h-1zM718 403h1v1h-1zM60 404h1v1h-1zM190 404h1v1h-1zM580 404h1v1h-1zM710 404h1v1h-1zM717 404h1v1h-1zM59 405h1v1h-1zM189 405h1v1h-1zM579 405h1v1h-1zM709 405h1v1h-1zM716 405h1v1h-1zM58 406h1v1h-1zM188 406h1v1h-1zM578 406h1v1h-1zM708 406h1v1h-1zM715 406h1v1h-1zM57 407h1v1h-1zM187 407h1v1h-1zM578 407h1v1h-1zM707 407h1v1h-1zM714 407h1v1h-1zM56 408h1v1h-1zM186 408h1v1h-1zM577 408h1v1h-1zM706 408h1v1h-1zM713 408h1v1h-1zM55 409h1v1h-1zM185 409h1v1h-1zM576 409h1v1h-1zM705 409h1v1h-1zM712 409h1v1h-1zM54 410h1v1h-1zM184 410h1v1h-1zM575 410h1v1h-1zM704 410h1v1h-1zM711 410h1v1h-1zM53 411h1v1h-1zM183 411h1v1h-1zM574 411h1v1h-1zM703 411h1v1h-1zM710 411h1v1h-1zM52 412h1v1h-1zM182 412h1v1h-1zM573 412h1v1h-1zM702 412h1v1h-1zM709 412h1v1h-1zM52 413h3v1h-3zM181 413h1v1h-1zM572 413h1v1h-1zM701 413h1v1h-1zM708 413h1v1h-1zM52 414h1v1h-1zM55 414h1v1h-1zM180 414h1v1h-1zM571 414h1v1h-1zM700 414h1v1h-1zM707 414h1v1h-1zM52 415h1v1h-1zM56 415h1v1h-1zM179 415h1v1h-1zM570 415h1v1h-1zM699 415h1v1h-1zM706 415h1v1h-1zM52 416h1v1h-1zM57 416h2v1h-2zM178 416h1v1h-1zM569 416h1v1h-1zM698 416h1v1h-1zM705 416h1v1h-1zM52 417h1v1h-1zM59 417h1v1h-1zM177 417h1v1h-1zM568 417h1v1h-1zM697 417h1v1h-1zM704 417h1v1h-1zM52 418h1v1h-1zM60 418h1v1h-1zM177 418h1v1h-1zM567 418h1v1h-1zM696 418h1v1h-1zM703 418h1v1h-1zM52 419h1v1h-1zM61 419h2v1h-2zM176 419h1v1h-1zM566 419h1v1h-1zM695 419h1v1h-1zM702 419h1v1h-1zM52 420h1v1h-1zM63 420h1v1h-1zM175 420h1v1h-1zM565 420h1v1h-1zM694 420h1v1h-1zM701 420h1v1h-1zM52 421h1v1h-1zM64 421h1v1h-1zM174 421h1v1h-1zM564 421h1v1h-1zM693 421h1v1h-1zM700 421h1v1h-1zM52 422h1v1h-1zM65 422h2v1h-2zM173 422h1v1h-1zM563 422h1v1h-1zM692 422h1v1h-1zM699 422h1v1h-1zM52 423h1v1h-1zM67 423h1v1h-1zM172 423h1v1h-1zM562 423h1v1h-1zM691 423h1v1h-1zM698 423h1v1h-1zM52 424h1v1h-1zM68 424h1v1h-1zM171 424h1v1h-1zM561 424h1v1h-1zM690 424h1v1h-1zM697 424h1v1h-1zM52 425h1v1h-1zM69 425h2v1h-2zM170 425h1v1h-1zM560 425h1v1h-1zM689 425h1v1h-1zM696 425h1v1h-1zM52 426h1v1h-1zM71 426h1v1h-1zM169 426h1v1h-1zM559 426h1v1h-1zM688 426h1v1h-1zM695 426h1v1h-1zM52 427h1v1h-1zM72 427h1v1h-1zM168 427h1v1h-1zM558 427h1v1h-1zM688 427h1v1h-1zM694 427h1v1h-1zM52 428h1v1h-1zM73 428h2v1h-2zM167 428h1v1h-1zM557 428h1v1h-1zM687 428h1v1h-1zM693 428h1v1h-1zM52 429h1v1h-1zM75 429h1v1h-1zM166 429h1v1h-1zM556 429h1v1h-1zM686 429h1v1h-1zM692 429h1v1h-1zM52 430h1v1h-1zM76 430h1v1h-1zM165 430h1v1h-1zM555 430h1v1h-1zM685 430h1v1h-1zM691 430h1v1h-1zM52 431h1v1h-1zM77 431h2v1h-2zM164 431h1v1h-1zM554 431h1v1h-1zM684 431h1v1h-1zM690 431h1v1h-1zM52 432h1v1h-1zM79 432h1v1h-1zM163 432h1v1h-1zM553 432h1v1h-1zM683 432h1v1h-1zM689 432h1v1h-1zM52 433h1v1h-1zM80 433h2v1h-2zM162 433h1v1h-1zM552 433h1v1h-1zM682 433h1v1h-1zM688 433h1v1h-1zM52 434h1v1h-1zM82 434h1v1h-1zM161 434h1v1h-1zM551 434h1v1h-1zM681 434h1v1h-1zM688 434h1v1h-1zM52 435h1v1h-1zM83 435h1v1h-1zM160 435h1v1h-1zM551 435h1v1h-1zM680 435h1v1h-1zM687 435h1v1h-1zM52 436h1v1h-1zM84 436h2v1h-2zM159 436h1v1h-1zM550 436h1v1h-1zM679 436h1v1h-1zM686 436h1v1h-1zM52 437h1v1h-1zM86 437h1v1h-1zM158 437h1v1h-1zM549 437h1v1h-1zM678 437h1v1h-1zM685 437h1v1h-1zM52 438h1v1h-1zM87 438h1v1h-1zM157 438h1v1h-1zM548 438h1v1h-1zM677 438h1v1h-1zM684 438h1v1h-1zM52 439h1v1h-1zM88 439h2v1h-2zM156 439h1v1h-1zM547 439h1v1h-1zM676 439h1v1h-1zM683 439h1v1h-1zM52 440h1v1h-1zM90 440h1v1h-1zM155 440h1v1h-1zM546 440h1v1h-1zM675 440h1v1h-1zM682 440h1v1h-1zM52 441h1v1h-1zM91 441h1v1h-1zM154 441h1v1h-1zM545 441h1v1h-1zM674 441h1v1h-1zM681 441h1v1h-1zM52 442h1v1h-1zM92 442h2v1h-2zM154 442h1v1h-1zM544 442h1v1h-1zM673 442h1v1h-1zM680 442h1v1h-1zM52 443h1v1h-1zM94 443h1v1h-1zM153 443h1v1h-1zM543 443h1v1h-1zM672 443h1v1h-1zM679 443h1v1h-1zM52 444h1v1h-1zM95 444h1v1h-1zM152 444h1v1h-1zM542 444h1v1h-1zM671 444h1v1h-1zM678 444h1v1h-1zM52 445h1v1h-1zM96 445h2v1h-2zM151 445h1v1h-1zM541 445h1v1h-1zM670 445h1v1h-1zM677 445h1v1h-1zM52 446h1v1h-1zM98 446h1v1h-1zM150 446h1v1h-1zM540 446h1v1h-1zM669 446h1v1h-1zM676 446h1v1h-1zM52 447h1v1h-1zM99 447h1v1h-1zM149 447h1v1h-1zM539 447h1v1h-1zM668 447h1v1h-1zM675 447h1v1h-1zM52 448h1v1h-1zM100 448h2v1h-2zM148 448h1v1h-1zM538 448h1v1h-1zM667 448h1v1h-1zM674 448h1v1h-1zM52 449h1v1h-1zM102 449h1v1h-1zM147 449h1v1h-1zM537 449h1v1h-1zM666 449h1v1h-1zM673 449h1v1h-1zM52 450h1v1h-1zM103 450h2v1h-2zM146 450h1v1h-1zM536 450h1v1h-1zM665 450h1v1h-1zM672 450h1v1h-1zM52 451h1v1h-1zM105 451h1v1h-1zM145 451h1v1h-1zM535 451h1v1h-1zM664 451h1v1h-1zM671 451h1v1h-1zM52 452h1v1h-1zM106 452h1v1h-1zM144 452h1v1h-1zM534 452h1v1h-1zM663 452h1v1h-1zM670 452h1v1h-1zM52 453h1v1h-1zM107 453h2v1h-2zM143 453h1v1h-1zM533 453h1v1h-1zM662 453h1v1h-1zM669 453h1v1h-1zM52 454h1v1h-1zM109 454h1v1h-1zM142 454h1v1h-1zM532 454h1v1h-1zM661 454h1v1h-1zM668 454h1v1h-1zM52 455h1v1h-1zM110 455h1v1h-1zM141 455h1v1h-1zM531 455h1v1h-1zM660 455h1v1h-1zM667 455h1v1h-1zM52 456h1v1h-1zM111 456h2v1h-2zM140 456h1v1h-1zM530 456h1v1h-1zM659 456h1v1h-1zM666 456h1v1h-1zM52 457h1v1h-1zM113 457h1v1h-1zM139 457h1v1h-1zM529 457h1v1h-1zM658 457h1v1h-1zM665 457h1v1h-1zM52 458h1v1h-1zM114 458h1v1h-1zM138 458h1v1h-1zM528 458h1v1h-1zM657 458h1v1h-1zM664 458h1v1h-1zM52 459h1v1h-1zM115 459h2v1h-2zM137 459h1v1h-1zM527 459h1v1h-1zM656 459h1v1h-1zM663 459h1v1h-1zM52 460h1v1h-1zM117 460h1v1h-1zM136 460h1v1h-1zM526 460h1v1h-1zM655 460h1v1h-1zM662 460h1v1h-1zM52 461h1v1h-1zM118 461h1v1h-1zM135 461h1v1h-1zM525 461h1v1h-1zM654 461h1v1h-1zM661 461h1v1h-1zM52 462h1v1h-1zM119 462h2v1h-2zM134 462h1v1h-1zM525 462h1v1h-1zM653 462h1v1h-1zM660 462h1v1h-1zM52 463h1v1h-1zM121 463h1v1h-1zM133 463h1v1h-1zM524 463h1v1h-1zM652 463h1v1h-1zM659 463h1v1h-1zM52 464h1v1h-1zM122 464h1v1h-1zM132 464h1v1h-1zM523 464h1v1h-1zM651 464h1v1h-1zM658 464h1v1h-1zM52 465h1v1h-1zM123 465h2v1h-2zM132 465h1v1h-1zM522 465h1v1h-1zM650 465h1v1h-1zM657 465h1v1h-1zM52 466h1v1h-1zM125 466h1v1h-1zM131 466h1v1h-1zM521 466h1v1h-1zM649 466h1v1h-1zM656 466h1v1h-1zM52 467h1v1h-1zM126 467h1v1h-1zM130 467h1v1h-1zM520 467h1v1h-1zM649 467h1v1h-1zM655 467h1v1h-1zM52 468h1v1h-1zM127 468h3v1h-3zM519 468h1v1h-1zM648 468h1v1h-1zM654 468h1v1h-1zM52 469h1v1h-1zM128 469h2v1h-2zM518 469h1v1h-1zM647 469h1v1h-1zM653 469h1v1h-1zM52 470h1v1h-1zM127 470h1v1h-1zM130 470h2v1h-2zM517 470h1v1h-1zM646 470h1v1h-1zM652 470h1v1h-1zM52 471h1v1h-1zM126 471h1v1h-1zM132 471h1v1h-1zM516 471h1v1h-1zM645 471h1v1h-1zM651 471h1v1h-1zM52 472h1v1h-1zM125 472h1v1h-1zM133 472h1v1h-1zM515 472h1v1h-1zM644 472h1v1h-1zM650 472h1v1h-1zM52 473h1v1h-1zM124 473h1v1h-1zM134 473h2v1h-2zM514 473h1v1h-1zM643 473h1v1h-1zM649 473h1v1h-1zM52 474h1v1h-1zM123 474h1v1h-1zM136 474h1v1h-1zM513 474h1v1h-1zM642 474h1v1h-1zM649 474h1v1h-1zM52 475h1v1h-1zM122 475h1v1h-1zM137 475h1v1h-1zM512 475h1v1h-1zM641 475h1v1h-1zM648 475h1v1h-1zM52 476h1v1h-1zM121 476h1v1h-1zM138 476h2v1h-2zM511 476h1v1h-1zM640 476h1v1h-1zM647 476h1v1h-1zM52 477h1v1h-1zM120 477h1v1h-1zM140 477h1v1h-1zM510 477h1v1h-1zM639 477h1v1h-1zM646 477h1v1h-1zM52 478h1v1h-1zM119 478h1v1h-1zM141 478h1v1h-1zM509 478h1v1h-1zM638 478h1v1h-1zM645 478h1v1h-1zM52 479h1v1h-1zM118 479h1v1h-1zM142 479h2v1h-2zM508 479h1v1h-1zM637 479h1v1h-1zM644 479h1v1h-1zM52 480h1v1h-1zM117 480h1v1h-1zM144 480h1v1h-1zM507 480h1v1h-1zM636 480h1v1h-1zM643 480h1v1h-1zM52 481h1v1h-1zM116 481h1v1h-1zM145 481h1v1h-1zM506 481h1v1h-1zM635 481h1v1h-1zM642 481h1v1h-1zM52 482h1v1h-1zM115 482h1v1h-1zM146 482h2v1h-2zM505 482h1v1h-1zM634 482h1v1h-1zM641 482h1v1h-1zM52 483h1v1h-1zM114 483h1v1h-1zM148 483h1v1h-1zM504 483h1v1h-1zM633 483h1v1h-1zM640 483h1v1h-1zM52 484h1v1h-1zM113 484h1v1h-1zM149 484h1v1h-1zM503 484h1v1h-1zM632 484h1v1h-1zM639 484h1v1h-1zM52 485h1v1h-1zM112 485h1v1h-1zM150 485h2v1h-2zM502 485h1v1h-1zM631 485h1v1h-1zM638 485h1v1h-1zM52 486h1v1h-1zM111 486h1v1h-1zM152 486h1v1h-1zM501 486h1v1h-1zM630 486h1v1h-1zM637 486h1v1h-1zM52 487h1v1h-1zM110 487h1v1h-1zM153 487h2v1h-2zM500 487h1v1h-1zM629 487h1v1h-1zM636 487h1v1h-1zM52 488h1v1h-1zM109 488h1v1h-1zM155 488h1v1h-1zM499 488h1v1h-1zM628 488h1v1h-1zM635 488h1v1h-1zM52 489h1v1h-1zM109 489h1v1h-1zM156 489h1v1h-1zM499 489h1v1h-1zM627 489h1v1h-1zM634 489h1v1h-1zM52 490h1v1h-1zM108 490h1v1h-1zM157 490h2v1h-2zM498 490h1v1h-1zM626 490h1v1h-1zM633 490h1v1h-1zM52 491h1v1h-1zM107 491h1v1h-1zM159 491h1v1h-1zM497 491h1v1h-1zM625 491h1v1h-1zM632 491h1v1h-1zM52 492h1v1h-1zM106 492h1v1h-1zM160 492h1v1h-1zM496 492h1v1h-1zM624 492h1v1h-1zM631 492h1v1h-1zM52 493h1v1h-1zM105 493h1v1h-1zM161 493h2v1h-2zM495 493h1v1h-1zM623 493h1v1h-1zM630 493h1v1h-1zM52 494h1v1h-1zM104 494h1v1h-1zM163 494h1v1h-1zM494 494h1v1h-1zM622 494h1v1h-1zM629 494h1v1h-1zM52 495h1v1h-1zM103 495h1v1h-1zM164 495h1v1h-1zM493 495h1v1h-1zM621 495h1v1h-1zM628 495h1v1h-1zM52 496h1v1h-1zM102 496h1v1h-1zM165 496h2v1h-2zM492 496h1v1h-1zM620 496h1v1h-1zM627 496h1v1h-1zM52 497h1v1h-1zM101 497h1v1h-1zM167 497h1v1h-1zM491 497h1v1h-1zM619 497h1v1h-1zM626 497h1v1h-1zM52 498h1v1h-1zM100 498h1v1h-1zM168 498h1v1h-1zM490 498h1v1h-1zM618 498h1v1h-1zM625 498h1v1h-1zM52 499h1v1h-1zM99 499h1v1h-1zM169 499h2v1h-2zM489 499h1v1h-1zM617 499h1v1h-1zM624 499h1v1h-1zM52 500h1v1h-1zM98 500h1v1h-1zM171 500h1v1h-1zM488 500h1v1h-1zM616 500h1v1h-1zM623 500h1v1h-1zM52 501h1v1h-1zM97 501h1v1h-1zM172 501h1v1h-1zM487 501h1v1h-1zM615 501h1v1h-1zM622 501h1v1h-1zM52 502h1v1h-1zM96 502h1v1h-1zM173 502h2v1h-2zM486 502h1v1h-1zM614 502h1v1h-1zM621 502h1v1h-1zM52 503h1v1h-1zM95 503h1v1h-1zM175 503h1v1h-1zM485 503h1v1h-1zM613 503h1v1h-1zM620 503h1v1h-1zM52 504h1v1h-1zM94 504h1v1h-1zM176 504h1v1h-1zM484 504h1v1h-1zM612 504h1v1h-1zM619 504h1v1h-1zM52 505h1v1h-1zM93 505h1v1h-1zM177 505h2v1h-2zM483 505h1v1h-1zM611 505h1v1h-1zM618 505h1v1h-1zM52 506h1v1h-1zM92 506h1v1h-1zM179 506h1v1h-1zM482 506h1v1h-1zM610 506h1v1h-1zM617 506h1v1h-1zM52 507h1v1h-1zM91 507h1v1h-1zM180 507h2v1h-2zM481 507h1v1h-1zM610 507h1v1h-1zM616 507h1v1h-1zM52 508h1v1h-1zM90 508h1v1h-1zM182 508h1v1h-1zM480 508h1v1h-1zM609 508h1v1h-1zM615 508h1v1h-1zM52 509h1v1h-1zM89 509h1v1h-1zM183 509h1v1h-1zM479 509h1v1h-1zM608 509h1v1h-1zM614 509h1v1h-1zM52 510h1v1h-1zM88 510h1v1h-1zM184 510h2v1h-2zM478 510h1v1h-1zM607 510h1v1h-1zM613 510h1v1h-1zM52 511h1v1h-1zM87 511h1v1h-1zM186 511h1v1h-1zM477 511h1v1h-1zM606 511h1v1h-1zM612 511h1v1h-1zM52 512h1v1h-1zM86 512h1v1h-1zM187 512h1v1h-1zM476 512h1v1h-1zM605 512h1v1h-1zM611 512h1v1h-1zM52 513h1v1h-1zM86 513h1v1h-1zM188 513h2v1h-2zM475 513h1v1h-1zM604 513h1v1h-1zM610 513h1v1h-1zM52 514h1v1h-1zM85 514h1v1h-1zM190 514h1v1h-1zM474 514h1v1h-1zM603 514h1v1h-1zM610 514h1v1h-1zM52 515h1v1h-1zM84 515h1v1h-1zM191 515h1v1h-1zM473 515h1v1h-1zM602 515h1v1h-1zM609 515h1v1h-1zM52 516h1v1h-1zM83 516h1v1h-1zM192 516h2v1h-2zM473 516h1v1h-1zM601 516h1v1h-1zM608 516h1v1h-1zM52 517h1v1h-1zM82 517h1v1h-1zM194 517h1v1h-1zM472 517h1v1h-1zM600 517h1v1h-1zM607 517h1v1h-1zM52 518h1v1h-1zM81 518h1v1h-1zM195 518h1v1h-1zM471 518h1v1h-1zM599 518h1v1h-1zM606 518h1v1h-1zM52 519h1v1h-1zM80 519h1v1h-1zM196 519h2v1h-2zM470 519h1v1h-1zM598 519h1v1h-1zM605 519h1v1h-1zM52 520h1v1h-1zM79 520h1v1h-1zM198 520h1v1h-1zM469 520h1v1h-1zM597 520h1v1h-1zM604 520h1v1h-1zM52 521h1v1h-1zM78 521h1v1h-1zM199 521h1v1h-1zM468 521h1v1h-1zM596 521h1v1h-1zM603 521h1v1h-1zM52 522h1v1h-1zM77 522h1v1h-1zM200 522h2v1h-2zM467 522h1v1h-1zM595 522h1v1h-1zM602 522h1v1h-1zM52 523h1v1h-1zM76 523h1v1h-1zM202 523h1v1h-1zM466 523h1v1h-1zM594 523h1v1h-1zM601 523h1v1h-1zM52 524h1v1h-1zM75 524h1v1h-1zM203 524h1v1h-1zM465 524h1v1h-1zM593 524h1v1h-1zM600 524h1v1h-1zM52 525h1v1h-1zM74 525h1v1h-1zM204 525h2v1h-2zM464 525h1v1h-1zM592 525h1v1h-1zM599 525h1v1h-1zM52 526h1v1h-1zM73 526h1v1h-1zM206 526h1v1h-1zM463 526h1v1h-1zM591 526h1v1h-1zM598 526h1v1h-1zM52 527h1v1h-1zM72 527h1v1h-1zM207 527h2v1h-2zM462 527h1v1h-1zM590 527h1v1h-1zM597 527h1v1h-1zM52 528h1v1h-1zM71 528h1v1h-1zM209 528h1v1h-1zM461 528h1v1h-1zM589 528h1v1h-1zM596 528h1v1h-1zM52 529h1v1h-1zM70 529h1v1h-1zM210 529h1v1h-1zM460 529h1v1h-1zM588 529h1v1h-1zM595 529h1v1h-1zM52 530h1v1h-1zM69 530h1v1h-1zM211 530h2v1h-2zM459 530h1v1h-1zM587 530h1v1h-1zM594 530h1v1h-1zM52 531h1v1h-1zM68 531h1v1h-1zM213 531h1v1h-1zM458 531h1v1h-1zM586 531h1v1h-1zM593 531h1v1h-1zM52 532h1v1h-1zM67 532h1v1h-1zM214 532h1v1h-1zM457 532h1v1h-1zM585 532h1v1h-1zM592 532h1v1h-1zM52 533h1v1h-1zM66 533h1v1h-1zM215 533h2v1h-2zM456 533h1v1h-1zM584 533h1v1h-1zM591 533h1v1h-1zM52 534h1v1h-1zM65 534h1v1h-1zM217 534h1v1h-1zM455 534h1v1h-1zM583 534h1v1h-1zM590 534h1v1h-1zM52 535h1v1h-1zM64 535h1v1h-1zM218 535h1v1h-1zM454 535h1v1h-1zM582 535h1v1h-1zM589 535h1v1h-1zM52 536h1v1h-1zM63 536h1v1h-1zM219 536h2v1h-2zM453 536h1v1h-1zM581 536h1v1h-1zM588 536h1v1h-1zM52 537h1v1h-1zM63 537h1v1h-1zM221 537h1v1h-1zM452 537h1v1h-1zM580 537h1v1h-1zM587 537h1v1h-1zM52 538h1v1h-1zM62 538h1v1h-1zM222 538h1v1h-1zM451 538h1v1h-1zM579 538h1v1h-1zM586 538h1v1h-1zM52 539h1v1h-1zM61 539h1v1h-1zM223 539h2v1h-2zM450 539h1v1h-1zM578 539h1v1h-1zM585 539h1v1h-1zM52 540h1v1h-1zM60 540h1v1h-1zM225 540h1v1h-1zM449 540h1v1h-1zM577 540h1v1h-1zM584 540h1v1h-1zM52 541h1v1h-1zM59 541h1v1h-1zM226 541h1v1h-1zM448 541h1v1h-1zM576 541h1v1h-1zM583 541h1v1h-1zM52 542h1v1h-1zM58 542h1v1h-1zM227 542h2v1h-2zM447 542h1v1h-1zM575 542h1v1h-1zM582 542h1v1h-1zM52 543h1v1h-1zM57 543h1v1h-1zM229 543h1v1h-1zM447 543h1v1h-1zM574 543h1v1h-1zM581 543h1v1h-1zM52 544h1v1h-1zM56 544h1v1h-1zM230 544h2v1h-2zM446 544h1v1h-1zM573 544h1v1h-1zM580 544h1v1h-1zM52 545h1v1h-1zM55 545h1v1h-1zM232 545h1v1h-1zM445 545h1v1h-1zM572 545h1v1h-1zM579 545h1v1h-1zM52 546h1v1h-1zM54 546h1v1h-1zM233 546h1v1h-1zM444 546h1v1h-1zM571 546h1v1h-1zM578 546h1v1h-1zM52 547h2v1h-2zM234 547h2v1h-2zM443 547h1v1h-1zM571 547h1v1h-1zM577 547h1v1h-1zM51 548h2v1h-2zM236 548h1v1h-1zM442 548h1v1h-1zM570 548h1v1h-1zM576 548h1v1h-1zM51 549h1v1h-1zM53 549h2v1h-2zM237 549h1v1h-1zM441 549h1v1h-1zM569 549h1v1h-1zM575 549h1v1h-1zM51 550h1v1h-1zM55 550h1v1h-1zM238 550h2v1h-2zM440 550h1v1h-1zM568 550h1v1h-1zM574 550h1v1h-1zM51 551h1v1h-1zM56 551h1v1h-1zM240 551h1v1h-1zM439 551h1v1h-1zM567 551h1v1h-1zM573 551h1v1h-1zM51 552h1v1h-1zM57 552h2v1h-2zM241 552h1v1h-1zM438 552h1v1h-1zM566 552h1v1h-1zM572 552h1v1h-1zM51 553h1v1h-1zM59 553h1v1h-1zM242 553h2v1h-2zM437 553h1v1h-1zM565 553h1v1h-1zM571 553h1v1h-1zM51 554h1v1h-1zM60 554h2v1h-2zM244 554h1v1h-1zM436 554h1v1h-1zM564 554h1v1h-1zM571 554h1v1h-1zM51 555h1v1h-1zM62 555h1v1h-1zM245 555h1v1h-1zM435 555h1v1h-1zM563 555h1v1h-1zM570 555h1v1h-1zM52 556h1v1h-1zM63 556h1v1h-1zM246 556h2v1h-2zM434 556h1v1h-1zM562 556h1v1h-1zM569 556h1v1h-1zM53 557h2v1h-2zM64 557h2v1h-2zM248 557h1v1h-1zM433 557h1v1h-1zM561 557h1v1h-1zM568 557h1v1h-1zM55 558h1v1h-1zM66 558h1v1h-1zM249 558h1v1h-1zM432 558h1v1h-1zM560 558h1v1h-1zM567 558h1v1h-1zM56 559h1v1h-1zM67 559h1v1h-1zM250 559h2v1h-2zM431 559h1v1h-1zM559 559h1v1h-1zM566 559h1v1h-1zM57 560h2v1h-2zM68 560h2v1h-2zM252 560h1v1h-1zM430 560h1v1h-1zM558 560h1v1h-1zM565 560h1v1h-1zM59 561h1v1h-1zM70 561h1v1h-1zM253 561h1v1h-1zM429 561h1v1h-1zM557 561h1v1h-1zM564 561h1v1h-1zM60 562h2v1h-2zM71 562h2v1h-2zM254 562h2v1h-2zM428 562h1v1h-1zM556 562h1v1h-1zM563 562h1v1h-1zM62 563h1v1h-1zM73 563h1v1h-1zM256 563h1v1h-1zM427 563h1v1h-1zM555 563h1v1h-1zM562 563h1v1h-1zM63 564h1v1h-1zM74 564h1v1h-1zM257 564h2v1h-2zM426 564h1v1h-1zM554 564h1v1h-1zM561 564h1v1h-1zM64 565h2v1h-2zM75 565h2v1h-2zM259 565h1v1h-1zM425 565h1v1h-1zM553 565h1v1h-1zM560 565h1v1h-1zM66 566h1v1h-1zM77 566h1v1h-1zM260 566h1v1h-1zM424 566h1v1h-1zM552 566h1v1h-1zM559 566h1v1h-1zM67 567h2v1h-2zM78 567h2v1h-2zM261 567h2v1h-2zM423 567h1v1h-1zM551 567h1v1h-1zM558 567h1v1h-1zM69 568h1v1h-1zM80 568h1v1h-1zM263 568h1v1h-1zM422 568h1v1h-1zM550 568h1v1h-1zM557 568h1v1h-1zM70 569h1v1h-1zM81 569h1v1h-1zM264 569h1v1h-1zM421 569h1v1h-1zM549 569h1v1h-1zM556 569h1v1h-1zM71 570h2v1h-2zM82 570h2v1h-2zM265 570h2v1h-2zM421 570h1v1h-1zM548 570h1v1h-1zM555 570h1v1h-1zM73 571h1v1h-1zM84 571h1v1h-1zM267 571h1v1h-1zM420 571h1v1h-1zM547 571h1v1h-1zM554 571h1v1h-1zM74 572h2v1h-2zM85 572h2v1h-2zM268 572h1v1h-1zM419 572h1v1h-1zM546 572h1v1h-1zM553 572h1v1h-1zM76 573h1v1h-1zM87 573h1v1h-1zM269 573h2v1h-2zM418 573h1v1h-1zM545 573h1v1h-1zM552 573h1v1h-1zM77 574h1v1h-1zM88 574h1v1h-1zM271 574h1v1h-1zM417 574h1v1h-1zM544 574h1v1h-1zM551 574h1v1h-1zM78 575h2v1h-2zM89 575h2v1h-2zM272 575h1v1h-1zM416 575h1v1h-1zM543 575h1v1h-1zM550 575h1v1h-1zM80 576h1v1h-1zM91 576h1v1h-1zM273 576h2v1h-2zM415 576h1v1h-1zM542 576h1v1h-1zM549 576h1v1h-1zM81 577h1v1h-1zM92 577h1v1h-1zM275 577h1v1h-1zM414 577h1v1h-1zM541 577h1v1h-1zM548 577h1v1h-1zM82 578h2v1h-2zM93 578h2v1h-2zM276 578h1v1h-1zM413 578h1v1h-1zM540 578h1v1h-1zM547 578h1v1h-1zM84 579h1v1h-1zM95 579h1v1h-1zM277 579h2v1h-2zM412 579h1v1h-1zM539 579h1v1h-1zM546 579h1v1h-1zM85 580h2v1h-2zM96 580h2v1h-2zM279 580h1v1h-1zM411 580h1v1h-1zM538 580h1v1h-1zM545 580h1v1h-1zM87 581h1v1h-1zM98 581h1v1h-1zM280 581h2v1h-2zM410 581h1v1h-1zM537 581h1v1h-1zM544 581h1v1h-1zM88 582h1v1h-1zM99 582h1v1h-1zM282 582h1v1h-1zM409 582h1v1h-1zM536 582h1v1h-1zM543 582h1v1h-1zM89 583h2v1h-2zM100 583h2v1h-2zM283 583h1v1h-1zM408 583h1v1h-1zM535 583h1v1h-1zM542 583h1v1h-1zM91 584h1v1h-1zM102 584h1v1h-1zM284 584h2v1h-2zM407 584h1v1h-1zM534 584h1v1h-1zM541 584h1v1h-1zM92 585h2v1h-2zM103 585h2v1h-2zM286 585h1v1h-1zM406 585h1v1h-1zM533 585h1v1h-1zM540 585h1v1h-1zM94 586h1v1h-1zM105 586h1v1h-1zM287 586h1v1h-1zM405 586h1v1h-1zM532 586h1v1h-1zM539 586h1v1h-1zM95 587h1v1h-1zM106 587h1v1h-1zM288 587h2v1h-2zM404 587h1v1h-1zM532 587h1v1h-1zM538 587h1v1h-1zM96 588h2v1h-2zM107 588h2v1h-2zM290 588h1v1h-1zM403 588h1v1h-1zM531 588h1v1h-1zM537 588h1v1h-1zM98 589h1v1h-1zM109 589h1v1h-1zM291 589h1v1h-1zM402 589h1v1h-1zM530 589h1v1h-1zM536 589h1v1h-1zM99 590h2v1h-2zM110 590h1v1h-1zM292 590h2v1h-2zM401 590h1v1h-1zM529 590h1v1h-1zM535 590h1v1h-1zM101 591h1v1h-1zM111 591h2v1h-2zM294 591h1v1h-1zM400 591h1v1h-1zM528 591h1v1h-1zM534 591h1v1h-1zM102 592h1v1h-1zM113 592h1v1h-1zM295 592h1v1h-1zM399 592h1v1h-1zM527 592h1v1h-1zM533 592h1v1h-1zM103 593h2v1h-2zM114 593h2v1h-2zM296 593h2v1h-2zM398 593h1v1h-1zM526 593h1v1h-1zM532 593h1v1h-1zM105 594h1v1h-1zM116 594h1v1h-1zM298 594h1v1h-1zM397 594h1v1h-1zM525 594h1v1h-1zM532 594h1v1h-1zM106 595h2v1h-2zM117 595h1v1h-1zM299 595h1v1h-1zM396 595h1v1h-1zM524 595h1v1h-1zM531 595h1v1h-1zM108 596h1v1h-1zM118 596h2v1h-2zM300 596h2v1h-2zM395 596h1v1h-1zM523 596h1v1h-1zM530 596h1v1h-1zM109 597h1v1h-1zM120 597h1v1h-1zM302 597h1v1h-1zM395 597h1v1h-1zM522 597h1v1h-1zM529 597h1v1h-1zM110 598h2v1h-2zM121 598h2v1h-2zM303 598h1v1h-1zM394 598h1v1h-1zM521 598h1v1h-1zM528 598h1v1h-1zM112 599h1v1h-1zM123 599h1v1h-1zM304 599h2v1h-2zM393 599h1v1h-1zM520 599h1v1h-1zM527 599h1v1h-1zM113 600h2v1h-2zM124 600h1v1h-1zM306 600h1v1h-1zM392 600h1v1h-1zM519 600h1v1h-1zM526 600h1v1h-1zM115 601h1v1h-1zM125 601h2v1h-2zM307 601h2v1h-2zM391 601h1v1h-1zM518 601h1v1h-1zM525 601h1v1h-1zM116 602h1v1h-1zM127 602h1v1h-1zM309 602h1v1h-1zM390 602h1v1h-1zM517 602h1v1h-1zM524 602h1v1h-1zM117 603h2v1h-2zM128 603h2v1h-2zM310 603h1v1h-1zM389 603h1v1h-1zM516 603h1v1h-1zM523 603h1v1h-1zM119 604h1v1h-1zM130 604h1v1h-1zM311 604h2v1h-2zM388 604h1v1h-1zM515 604h1v1h-1zM522 604h1v1h-1zM120 605h2v1h-2zM131 605h1v1h-1zM313 605h1v1h-1zM387 605h1v1h-1zM514 605h1v1h-1zM521 605h1v1h-1zM122 606h1v1h-1zM132 606h2v1h-2zM314 606h1v1h-1zM386 606h1v1h-1zM513 606h1v1h-1zM520 606h1v1h-1zM123 607h1v1h-1zM134 607h1v1h-1zM315 607h2v1h-2zM385 607h1v1h-1zM512 607h1v1h-1zM519 607h1v1h-1zM124 608h2v1h-2zM135 608h1v1h-1zM317 608h1v1h-1zM384 608h1v1h-1zM511 608h1v1h-1zM518 608h1v1h-1zM126 609h1v1h-1zM136 609h2v1h-2zM318 609h1v1h-1zM383 609h1v1h-1zM510 609h1v1h-1zM517 609h1v1h-1zM127 610h1v1h-1zM138 610h1v1h-1zM319 610h2v1h-2zM382 610h1v1h-1zM509 610h1v1h-1zM516 610h1v1h-1zM128 611h2v1h-2zM139 611h2v1h-2zM321 611h1v1h-1zM381 611h1v1h-1zM508 611h1v1h-1zM515 611h1v1h-1zM130 612h1v1h-1zM141 612h1v1h-1zM322 612h1v1h-1zM380 612h1v1h-1zM507 612h1v1h-1zM514 612h1v1h-1zM131 613h2v1h-2zM142 613h1v1h-1zM323 613h2v1h-2zM379 613h1v1h-1zM506 613h1v1h-1zM513 613h1v1h-1zM133 614h1v1h-1zM143 614h2v1h-2zM325 614h1v1h-1zM378 614h1v1h-1zM505 614h1v1h-1zM512 614h1v1h-1zM134 615h1v1h-1zM145 615h1v1h-1zM326 615h1v1h-1zM377 615h1v1h-1zM504 615h1v1h-1zM511 615h1v1h-1zM135 616h2v1h-2zM146 616h2v1h-2zM327 616h2v1h-2zM376 616h1v1h-1zM503 616h1v1h-1zM510 616h1v1h-1zM137 617h1v1h-1zM148 617h1v1h-1zM329 617h1v1h-1zM375 617h1v1h-1zM502 617h1v1h-1zM509 617h1v1h-1zM138 618h2v1h-2zM149 618h1v1h-1zM330 618h2v1h-2zM374 618h1v1h-1zM501 618h1v1h-1zM508 618h1v1h-1zM140 619h1v1h-1zM150 619h2v1h-2zM332 619h1v1h-1zM373 619h1v1h-1zM500 619h1v1h-1zM507 619h1v1h-1zM141 620h1v1h-1zM152 620h1v1h-1zM333 620h1v1h-1zM372 620h1v1h-1zM499 620h1v1h-1zM506 620h1v1h-1zM142 621h2v1h-2zM153 621h2v1h-2zM334 621h2v1h-2zM371 621h1v1h-1zM498 621h1v1h-1zM505 621h1v1h-1zM144 622h1v1h-1zM155 622h1v1h-1zM336 622h1v1h-1zM370 622h1v1h-1zM497 622h1v1h-1zM504 622h1v1h-1zM145 623h2v1h-2zM156 623h1v1h-1zM337 623h1v1h-1zM369 623h1v1h-1zM496 623h1v1h-1zM503 623h1v1h-1zM147 624h1v1h-1zM157 624h2v1h-2zM338 624h2v1h-2zM369 624h1v1h-1zM495 624h1v1h-1zM502 624h1v1h-1zM148 625h1v1h-1zM159 625h1v1h-1zM340 625h1v1h-1zM368 625h1v1h-1zM494 625h1v1h-1zM501 625h1v1h-1zM149 626h2v1h-2zM160 626h1v1h-1zM341 626h1v1h-1zM367 626h1v1h-1zM493 626h1v1h-1zM500 626h1v1h-1zM151 627h1v1h-1zM161 627h2v1h-2zM342 627h2v1h-2zM366 627h1v1h-1zM493 627h1v1h-1zM499 627h1v1h-1zM152 628h2v1h-2zM163 628h1v1h-1zM344 628h1v1h-1zM365 628h1v1h-1zM492 628h1v1h-1zM498 628h1v1h-1zM154 629h1v1h-1zM164 629h2v1h-2zM345 629h1v1h-1zM364 629h1v1h-1zM491 629h1v1h-1zM497 629h1v1h-1zM155 630h1v1h-1zM166 630h1v1h-1zM346 630h2v1h-2zM363 630h1v1h-1zM490 630h1v1h-1zM496 630h1v1h-1zM156 631h2v1h-2zM167 631h1v1h-1zM348 631h1v1h-1zM362 631h1v1h-1zM489 631h1v1h-1zM495 631h1v1h-1zM158 632h1v1h-1zM168 632h2v1h-2zM349 632h1v1h-1zM361 632h1v1h-1zM488 632h1v1h-1zM494 632h1v1h-1zM159 633h2v1h-2zM170 633h1v1h-1zM350 633h2v1h-2zM360 633h1v1h-1zM487 633h1v1h-1zM493 633h1v1h-1zM161 634h1v1h-1zM171 634h2v1h-2zM352 634h1v1h-1zM359 634h1v1h-1zM486 634h1v1h-1zM493 634h1v1h-1zM162 635h1v1h-1zM173 635h1v1h-1zM353 635h1v1h-1zM358 635h1v1h-1zM485 635h1v1h-1zM492 635h1v1h-1zM163 636h2v1h-2zM174 636h1v1h-1zM354 636h2v1h-2zM357 636h1v1h-1zM484 636h1v1h-1zM491 636h1v1h-1zM165 637h1v1h-1zM175 637h2v1h-2zM356 637h1v1h-1zM483 637h1v1h-1zM490 637h1v1h-1zM166 638h2v1h-2zM177 638h1v1h-1zM356 638h1v1h-1zM482 638h1v1h-1zM489 638h1v1h-1zM168 639h1v1h-1zM178 639h2v1h-2zM356 639h1v1h-1zM481 639h1v1h-1zM488 639h1v1h-1zM169 640h1v1h-1zM180 640h1v1h-1zM356 640h1v1h-1zM480 640h1v1h-1zM487 640h1v1h-1zM170 641h2v1h-2zM181 641h1v1h-1zM356 641h1v1h-1zM479 641h1v1h-1zM486 641h1v1h-1zM172 642h1v1h-1zM182 642h2v1h-2zM356 642h1v1h-1zM478 642h1v1h-1zM485 642h1v1h-1zM173 643h2v1h-2zM184 643h1v1h-1zM356 643h1v1h-1zM477 643h1v1h-1zM484 643h1v1h-1zM175 644h1v1h-1zM185 644h1v1h-1zM356 644h1v1h-1zM476 644h1v1h-1zM483 644h1v1h-1zM176 645h1v1h-1zM186 645h2v1h-2zM356 645h1v1h-1zM475 645h1v1h-1zM482 645h1v1h-1zM177 646h2v1h-2zM188 646h1v1h-1zM356 646h1v1h-1zM474 646h1v1h-1zM481 646h1v1h-1zM179 647h1v1h-1zM189 647h2v1h-2zM356 647h1v1h-1zM473 647h1v1h-1zM480 647h1v1h-1zM180 648h1v1h-1zM191 648h1v1h-1zM356 648h1v1h-1zM472 648h1v1h-1zM479 648h1v1h-1zM181 649h2v1h-2zM192 649h1v1h-1zM356 649h1v1h-1zM471 649h1v1h-1zM478 649h1v1h-1zM183 650h1v1h-1zM193 650h2v1h-2zM356 650h1v1h-1zM470 650h1v1h-1zM477 650h1v1h-1zM184 651h2v1h-2zM195 651h1v1h-1zM356 651h1v1h-1zM469 651h1v1h-1zM476 651h1v1h-1zM186 652h1v1h-1zM196 652h2v1h-2zM356 652h1v1h-1zM468 652h1v1h-1zM475 652h1v1h-1zM187 653h1v1h-1zM198 653h1v1h-1zM356 653h1v1h-1zM467 653h1v1h-1zM474 653h1v1h-1zM188 654h2v1h-2zM199 654h1v1h-1zM356 654h1v1h-1zM466 654h1v1h-1zM473 654h1v1h-1zM190 655h1v1h-1zM200 655h2v1h-2zM356 655h1v1h-1zM465 655h1v1h-1zM472 655h1v1h-1zM191 656h2v1h-2zM202 656h1v1h-1zM356 656h1v1h-1zM464 656h1v1h-1zM471 656h1v1h-1zM193 657h1v1h-1zM203 657h1v1h-1zM356 657h1v1h-1zM463 657h1v1h-1zM470 657h1v1h-1zM194 658h1v1h-1zM204 658h2v1h-2zM356 658h1v1h-1zM462 658h1v1h-1zM469 658h1v1h-1zM195 659h2v1h-2zM206 659h1v1h-1zM356 659h1v1h-1zM461 659h1v1h-1zM468 659h1v1h-1zM197 660h1v1h-1zM207 660h2v1h-2zM356 660h1v1h-1zM460 660h1v1h-1zM467 660h1v1h-1zM198 661h2v1h-2zM209 661h1v1h-1zM356 661h1v1h-1zM459 661h1v1h-1zM466 661h1v1h-1zM200 662h1v1h-1zM210 662h1v1h-1zM356 662h1v1h-1zM458 662h1v1h-1zM465 662h1v1h-1zM201 663h1v1h-1zM211 663h2v1h-2zM356 663h1v1h-1zM457 663h1v1h-1zM464 663h1v1h-1zM202 664h2v1h-2zM213 664h1v1h-1zM356 664h1v1h-1zM456 664h1v1h-1zM463 664h1v1h-1zM204 665h1v1h-1zM214 665h2v1h-2zM356 665h1v1h-1zM455 665h1v1h-1zM462 665h1v1h-1zM205 666h2v1h-2zM216 666h1v1h-1zM356 666h1v1h-1zM454 666h1v1h-1zM461 666h1v1h-1zM207 667h1v1h-1zM217 667h1v1h-1zM356 667h1v1h-1zM454 667h1v1h-1zM460 667h1v1h-1zM208 668h1v1h-1zM218 668h2v1h-2zM356 668h1v1h-1zM453 668h1v1h-1zM459 668h1v1h-1zM209 669h2v1h-2zM220 669h1v1h-1zM356 669h1v1h-1zM452 669h1v1h-1zM458 669h1v1h-1zM211 670h1v1h-1zM221 670h2v1h-2zM356 670h1v1h-1zM451 670h1v1h-1zM457 670h1v1h-1zM212 671h2v1h-2zM223 671h1v1h-1zM356 671h1v1h-1zM450 671h1v1h-1zM456 671h1v1h-1zM214 672h1v1h-1zM224 672h1v1h-1zM356 672h1v1h-1zM449 672h1v1h-1zM455 672h1v1h-1zM215 673h1v1h-1zM225 673h2v1h-2zM356 673h1v1h-1zM448 673h1v1h-1zM454 673h1v1h-1zM216 674h2v1h-2zM227 674h1v1h-1zM356 674h1v1h-1zM447 674h1v1h-1zM454 674h1v1h-1zM218 675h1v1h-1zM228 675h1v1h-1zM356 675h1v1h-1zM446 675h1v1h-1zM453 675h1v1h-1zM219 676h2v1h-2zM229 676h2v1h-2zM356 676h1v1h-1zM445 676h1v1h-1zM452 676h1v1h-1zM221 677h1v1h-1zM231 677h1v1h-1zM356 677h1v1h-1zM444 677h1v1h-1zM451 677h1v1h-1zM222 678h1v1h-1zM232 678h2v1h-2zM356 678h1v1h-1zM443 678h1v1h-1zM450 678h1v1h-1zM223 679h2v1h-2zM234 679h1v1h-1zM356 679h1v1h-1zM442 679h1v1h-1zM449 679h1v1h-1zM225 680h1v1h-1zM235 680h1v1h-1zM356 680h1v1h-1zM441 680h1v1h-1zM448 680h1v1h-1zM226 681h2v1h-2zM236 681h2v1h-2zM356 681h1v1h-1zM440 681h1v1h-1zM447 681h1v1h-1zM228 682h1v1h-1zM238 682h1v1h-1zM356 682h1v1h-1zM439 682h1v1h-1zM446 682h1v1h-1zM229 683h1v1h-1zM239 683h2v1h-2zM356 683h1v1h-1zM438 683h1v1h-1zM445 683h1v1h-1zM230 684h2v1h-2zM241 684h1v1h-1zM356 684h1v1h-1zM437 684h1v1h-1zM444 684h1v1h-1zM232 685h1v1h-1zM242 685h1v1h-1zM356 685h1v1h-1zM436 685h1v1h-1zM443 685h1v1h-1zM233 686h1v1h-1zM243 686h2v1h-2zM356 686h1v1h-1zM435 686h1v1h-1zM442 686h1v1h-1zM234 687h2v1h-2zM245 687h1v1h-1zM356 687h1v1h-1zM434 687h1v1h-1zM441 687h1v1h-1zM236 688h1v1h-1zM246 688h2v1h-2zM356 688h1v1h-1zM433 688h1v1h-1zM440 688h1v1h-1zM237 689h2v1h-2zM248 689h1v1h-1zM356 689h1v1h-1zM432 689h1v1h-1zM439 689h1v1h-1zM239 690h1v1h-1zM249 690h1v1h-1zM356 690h1v1h-1zM431 690h1v1h-1zM438 690h1v1h-1zM240 691h1v1h-1zM250 691h2v1h-2zM356 691h1v1h-1zM430 691h1v1h-1zM437 691h1v1h-1zM241 692h2v1h-2zM252 692h1v1h-1zM356 692h1v1h-1zM429 692h1v1h-1zM436 692h1v1h-1zM243 693h1v1h-1zM253 693h1v1h-1zM356 693h1v1h-1zM428 693h1v1h-1zM435 693h1v1h-1zM244 694h2v1h-2zM254 694h2v1h-2zM356 694h1v1h-1zM427 694h1v1h-1zM434 694h1v1h-1zM246 695h1v1h-1zM256 695h1v1h-1zM356 695h1v1h-1zM426 695h1v1h-1zM433 695h1v1h-1zM247 696h1v1h-1zM257 696h2v1h-2zM356 696h1v1h-1zM425 696h1v1h-1zM432 696h1v1h-1zM248 697h2v1h-2zM259 697h1v1h-1zM356 697h1v1h-1zM424 697h1v1h-1zM431 697h1v1h-1zM250 698h1v1h-1zM260 698h1v1h-1zM356 698h1v1h-1zM423 698h1v1h-1zM430 698h1v1h-1zM251 699h2v1h-2zM261 699h2v1h-2zM356 699h1v1h-1zM422 699h1v1h-1zM429 699h1v1h-1zM253 700h1v1h-1zM263 700h1v1h-1zM356 700h1v1h-1zM421 700h1v1h-1zM428 700h1v1h-1zM254 701h1v1h-1zM264 701h2v1h-2zM356 701h1v1h-1zM420 701h1v1h-1zM427 701h1v1h-1zM255 702h2v1h-2zM266 702h1v1h-1zM356 702h1v1h-1zM419 702h1v1h-1zM426 702h1v1h-1zM257 703h1v1h-1zM267 703h1v1h-1zM356 703h1v1h-1zM418 703h1v1h-1zM425 703h1v1h-1zM258 704h2v1h-2zM268 704h2v1h-2zM356 704h1v1h-1zM417 704h1v1h-1zM424 704h1v1h-1zM260 705h1v1h-1zM270 705h1v1h-1zM356 705h1v1h-1zM416 705h1v1h-1zM423 705h1v1h-1zM261 706h1v1h-1zM271 706h2v1h-2zM356 706h1v1h-1zM415 706h1v1h-1zM422 706h1v1h-1zM262 707h2v1h-2zM273 707h1v1h-1zM356 707h1v1h-1zM415 707h1v1h-1zM421 707h1v1h-1zM264 708h1v1h-1zM274 708h1v1h-1zM356 708h1v1h-1zM414 708h1v1h-1zM420 708h1v1h-1zM265 709h2v1h-2zM275 709h2v1h-2zM356 709h1v1h-1zM413 709h1v1h-1zM419 709h1v1h-1zM267 710h1v1h-1zM277 710h1v1h-1zM356 710h1v1h-1zM412 710h1v1h-1zM418 710h1v1h-1zM268 711h1v1h-1zM278 711h1v1h-1zM356 711h1v1h-1zM411 711h1v1h-1zM417 711h1v1h-1zM269 712h2v1h-2zM279 712h2v1h-2zM356 712h1v1h-1zM410 712h1v1h-1zM416 712h1v1h-1zM271 713h1v1h-1zM281 713h1v1h-1zM356 713h1v1h-1zM409 713h1v1h-1zM415 713h1v1h-1zM272 714h2v1h-2zM282 714h2v1h-2zM356 714h1v1h-1zM408 714h1v1h-1zM415 714h1v1h-1zM274 715h1v1h-1zM284 715h1v1h-1zM356 715h1v1h-1zM407 715h1v1h-1zM414 715h1v1h-1zM275 716h1v1h-1zM285 716h1v1h-1zM356 716h1v1h-1zM406 716h1v1h-1zM413 716h1v1h-1zM276 717h2v1h-2zM286 717h2v1h-2zM356 717h1v1h-1zM405 717h1v1h-1zM412 717h1v1h-1zM278 718h1v1h-1zM288 718h1v1h-1zM356 718h1v1h-1zM404 718h1v1h-1zM411 718h1v1h-1zM279 719h1v1h-1zM289 719h2v1h-2zM356 719h1v1h-1zM403 719h1v1h-1zM410 719h1v1h-1zM280 720h2v1h-2zM291 720h1v1h-1zM356 720h1v1h-1zM402 720h1v1h-1zM409 720h1v1h-1zM282 721h1v1h-1zM292 721h1v1h-1zM356 721h1v1h-1zM401 721h1v1h-1zM408 721h1v1h-1zM283 722h2v1h-2zM293 722h2v1h-2zM356 722h1v1h-1zM400 722h1v1h-1zM407 722h1v1h-1zM285 723h1v1h-1zM295 723h1v1h-1zM356 723h1v1h-1zM399 723h1v1h-1zM406 723h1v1h-1zM286 724h1v1h-1zM296 724h2v1h-2zM356 724h1v1h-1zM398 724h1v1h-1zM405 724h1v1h-1zM287 725h2v1h-2zM298 725h1v1h-1zM356 725h1v1h-1zM397 725h1v1h-1zM404 725h1v1h-1zM289 726h1v1h-1zM299 726h1v1h-1zM356 726h1v1h-1zM396 726h1v1h-1zM403 726h1v1h-1zM290 727h2v1h-2zM300 727h2v1h-2zM356 727h1v1h-1zM395 727h1v1h-1zM402 727h1v1h-1zM292 728h1v1h-1zM302 728h1v1h-1zM356 728h1v1h-1zM394 728h1v1h-1zM401 728h1v1h-1zM293 729h1v1h-1zM303 729h1v1h-1zM356 729h1v1h-1zM393 729h1v1h-1zM400 729h1v1h-1zM294 730h2v1h-2zM304 730h2v1h-2zM356 730h1v1h-1zM392 730h1v1h-1zM399 730h1v1h-1zM296 731h1v1h-1zM306 731h1v1h-1zM356 731h1v1h-1zM391 731h1v1h-1zM398 731h1v1h-1zM297 732h2v1h-2zM307 732h2v1h-2zM356 732h1v1h-1zM390 732h1v1h-1zM397 732h1v1h-1zM299 733h1v1h-1zM309 733h1v1h-1zM356 733h1v1h-1zM389 733h1v1h-1zM396 733h1v1h-1zM300 734h1v1h-1zM310 734h1v1h-1zM356 734h1v1h-1zM388 734h1v1h-1zM395 734h1v1h-1zM301 735h2v1h-2zM311 735h2v1h-2zM356 735h1v1h-1zM387 735h1v1h-1zM394 735h1v1h-1zM303 736h1v1h-1zM313 736h1v1h-1zM356 736h1v1h-1zM386 736h1v1h-1zM393 736h1v1h-1zM304 737h2v1h-2zM314 737h2v1h-2zM356 737h1v1h-1zM385 737h1v1h-1zM392 737h1v1h-1zM306 738h1v1h-1zM316 738h1v1h-1zM356 738h1v1h-1zM384 738h1v1h-1zM391 738h1v1h-1zM307 739h1v1h-1zM317 739h1v1h-1zM356 739h1v1h-1zM383 739h1v1h-1zM390 739h1v1h-1zM308 740h2v1h-2zM318 740h2v1h-2zM356 740h1v1h-1zM382 740h1v1h-1zM389 740h1v1h-1zM310 741h1v1h-1zM320 741h1v1h-1zM356 741h1v1h-1zM381 741h1v1h-1zM388 741h1v1h-1zM311 742h2v1h-2zM321 742h1v1h-1zM356 742h1v1h-1zM380 742h1v1h-1zM387 742h1v1h-1zM313 743h1v1h-1zM322 743h2v1h-2zM356 743h1v1h-1zM379 743h1v1h-1zM386 743h1v1h-1zM314 744h1v1h-1zM324 744h1v1h-1zM356 744h1v1h-1zM378 744h1v1h-1zM385 744h1v1h-1zM315 745h2v1h-2zM325 745h2v1h-2zM356 745h1v1h-1zM377 745h1v1h-1zM384 745h1v1h-1zM317 746h1v1h-1zM327 746h1v1h-1zM356 746h1v1h-1zM376 746h1v1h-1zM383 746h1v1h-1zM318 747h2v1h-2zM328 747h1v1h-1zM356 747h1v1h-1zM376 747h1v1h-1zM382 747h1v1h-1zM320 748h1v1h-1zM329 748h2v1h-2zM356 748h1v1h-1zM375 748h1v1h-1zM381 748h1v1h-1zM321 749h1v1h-1zM331 749h1v1h-1zM356 749h1v1h-1zM374 749h1v1h-1zM380 749h1v1h-1zM322 750h2v1h-2zM332 750h2v1h-2zM356 750h1v1h-1zM373 750h1v1h-1zM379 750h1v1h-1zM324 751h1v1h-1zM334 751h1v1h-1zM356 751h1v1h-1zM372 751h1v1h-1zM378 751h1v1h-1zM325 752h2v1h-2zM335 752h1v1h-1zM356 752h1v1h-1zM371 752h1v1h-1zM377 752h1v1h-1zM327 753h1v1h-1zM336 753h2v1h-2zM356 753h1v1h-1zM370 753h1v1h-1zM376 753h1v1h-1zM328 754h1v1h-1zM338 754h1v1h-1zM356 754h1v1h-1zM369 754h1v1h-1zM376 754h1v1h-1zM329 755h2v1h-2zM339 755h2v1h-2zM356 755h1v1h-1zM368 755h1v1h-1zM375 755h1v1h-1zM331 756h1v1h-1zM341 756h1v1h-1zM356 756h1v1h-1zM367 756h1v1h-1zM374 756h1v1h-1zM332 757h1v1h-1zM342 757h1v1h-1zM356 757h1v1h-1zM366 757h1v1h-1zM373 757h1v1h-1zM333 758h2v1h-2zM343 758h2v1h-2zM356 758h1v1h-1zM365 758h1v1h-1zM372 758h1v1h-1zM335 759h1v1h-1zM345 759h1v1h-1zM356 759h1v1h-1zM364 759h1v1h-1zM371 759h1v1h-1zM336 760h2v1h-2zM346 760h1v1h-1zM356 760h1v1h-1zM363 760h1v1h-1zM370 760h1v1h-1zM338 761h1v1h-1zM347 761h2v1h-2zM356 761h1v1h-1zM362 761h1v1h-1zM369 761h1v1h-1zM339 762h1v1h-1zM349 762h1v1h-1zM356 762h1v1h-1zM361 762h1v1h-1zM368 762h1v1h-1zM340 763h2v1h-2zM350 763h2v1h-2zM356 763h1v1h-1zM360 763h1v1h-1zM367 763h1v1h-1zM342 764h1v1h-1zM352 764h1v1h-1zM356 764h1v1h-1zM359 764h1v1h-1zM366 764h1v1h-1zM343 765h2v1h-2zM353 765h1v1h-1zM356 765h1v1h-1zM358 765h1v1h-1zM365 765h1v1h-1zM345 766h1v1h-1zM354 766h4v1h-4zM364 766h1v1h-1zM346 767h1v1h-1zM356 767h1v1h-1zM363 767h1v1h-1zM347 768h2v1h-2zM356 768h1v1h-1zM362 768h1v1h-1zM349 769h1v1h-1zM356 769h1v1h-1zM361 769h1v1h-1zM350 770h2v1h-2zM356 770h1v1h-1zM360 770h1v1h-1zM352 771h1v1h-1zM356 771h1v1h-1zM359 771h1v1h-1zM353 772h1v1h-1zM356 772h1v1h-1zM358 772h1v1h-1zM354 773h4v1h-4zM356 774h1v1h-1z"/>
<g shape-rendering="crispEdges">
<polygon points="284.55,372.50 284.54,373.96 284.50,375.19 284.43,376.36 284.34,377.49 284.22,378.58 284.08,379.65 283.91,380.69 283.72,381.72 283.50,382.73 283.25,383.72 282.98,384.70 282.68,385.67 282.36,386.62 282.01,387.57 281.64,388.50 281.24,389.42 280.81,390.33 280.37,391.23 279.89,392.12 279.39,393.00 278.87,393.87 278.32,394.72 277.75,395.57 277.16,396.41 276.54,397.24 275.90,398.06 275.23,398.86 274.54,399.66 273.83,400.45 273.10,401.23 272.34,401.99 271.56,402.75 270.76,403.50 269.93,404.23 269.09,404.96 268.22,405.67 267.33,406.37 266.42,407.07 265.50,407.75 264.55,408.42 263.58,409.07 262.59,409.72 261.58,410.36 260.55,410.98 259.51,411.59 258.44,412.19 257.36,412.78 256.26,413.36 255.14,413.92 254.01,414.48 252.86,415.02 251.69,415.55 250.51,416.06 249.31,416.56 248.09,417.05 246.86,417.53 245.62,418.00 244.36,418.45 243.09,418.89 241.80,419.31 240.50,419.73 239.19,420.13 237.87,420.51 236.53,420.89 235.18,421.24 233.83,421.59 232.46,421.92 231.08,422.24 229.69,422.55 228.29,422.84 226.89,423.12 225.47,423.38 224.05,423.63 222.62,423.86 221.18,424.09 219.73,424.29 218.28,424.49 216.83,424.67 215.36,424.83 213.90,424.98 212.43,425.12 210.95,425.24 209.47,425.35 207.99,425.44 206.50,425.52 205.01,425.58 203.52,425.64 202.03,425.67 200.54,425.69 199.05,425.70 197.56,425.69 196.07,425.67 194.58,425.64 193.09,425.58 191.60,425.52 190.11,425.44 188.63,425.35 187.15,425.24 185.67,425.12 184.20,424.98 182.74,424.83 181.27,424.67 179.82,424.49 178.37,424.29 176.92,424.09 175.48,423.86 174.05,423.63 172.63,423.38 171.21,423.12 169.81,422.84 168.41,422.55 167.02,422.24 165.64,421.92 164.27,421.59 162.92,421.24 161.57,420.89 160.23,420.51 158.91,420.13 157.60,419.73 156.30,419.31 155.01,418.89 153.74,418.45 152.48,418.00 151.24,417.53 150.01,417.05 148.79,416.56 147.59,416.06 146.41,415.55 145.24,415.02 144.09,414.48 142.96,413.92 141.84,413.36 140.74,412.78 139.66,412.19 138.59,411.59 137.55,410.98 136.52,410.36 135.51,409.72 134.52,409.07 133.55,408.42 132.60,407.75 131.68,407.07 130.77,406.37 129.88,405.67 129.01,404.96 128.17,404.23 127.34,403.50 126.54,402.75 125.76,401.99 125.00,401.23 124.27,400.45 123.56,399.66 122.87,398.86 122.20,398.06 121.56,397.24 120.94,396.41 120.35,395.57 119.78,394.72 119.23,393.87 118.71,393.00 118.21,392.12 117.73,391.23 117.29,390.33 116.86,389.42 116.46,388.50 116.09,387.57 115.74,386.62 115.42,385.67 115.12,384.70 114.85,383.72 114.60,382.73 114.38,381.72 114.19,380.69 114.02,379.65 113.88,378.58 113.76,377.49 113.67,376.36 113.60,375.19 113.56,373.96 113.55,372.50 113.56,371.04 113.60,369.81 113.67,368.64 113.76,367.51 113.88,366.42 114.02,365.35 114.19,364.31 114.38,363.28 114.60,362.27 114.85,361.28 115.12,360.30 115.42,359.33 115.74,358.38 116.09,357.43 116.46,356.50 116.86,355.58 117.29,354.67 117.73,353.77 118.21,352.88 118.71,352.00 119.23,351.13 119.78,350.28 120.35,349.43 120.94,348.59 121.56,347.76 122.20,346.94 122.87,346.14 123.56,345.34 124.27,344.55 125.00,343.77 125.76,343.01 126.54,342.25 127.34,341.50 128.17,340.77 129.01,340.04 129.88,339.33 130.77,338.63 131.68,337.93 132.60,337.25 133.55,336.58 134.52,335.93 135.51,335.28 136.52,334.64 137.55,334.02 138.59,333.41 139.66,332.81 140.74,332.22 141.84,331.64 142.96,331.08 144.09,330.52 145.24,329.98 146.41,329.45 147.59,328.94 148.79,328.44 150.01,327.95 151.24,327.47 152.48,327.00 153.74,326.55 155.01,326.11 156.30,325.69 157.60,325.27 158.91,324.87 160.23,324.49 161.57,324.11 162.92,323.76 164.27,323.41 165.64,323.08 167.02,322.76 168.41,322.45 169.81,322.16 171.21,321.88 172.63,321.62 174.05,321.37 175.48,321.14 176.92,320.91 178.37,320.71 179.82,320.51 181.27,320.33 182.74,320.17 184.20,320.02 185.67,319.88 187.15,319.76 188.63,319.65 190.11,319.56 191.60,319.48 193.09,319.42 194.58,319.36 196.07,319.33 197.56,319.31 199.05,319.30 200.54,319.31 202.03,319.33 203.52,319.36 205.01,319.42 206.50,319.48 207.99,319.56 209.47,319.65 210.95,319.76 212.43,319.88 213.90,320.02 215.36,320.17 216.83,320.33 218.28,320.51 219.73,320.71 221.18,320.91 222.62,321.14 224.05,321.37 225.47,321.62 226.89,321.88 228.29,322.16 229.69,322.45 231.08,322.76 232.46,323.08 233.83,323.41 235.18,323.76 236.53,324.11 237.87,324.49 239.19,324.87 240.50,325.27 241.80,325.69 243.09,326.11 244.36,326.55 245.62,327.00 246.86,327.47 248.09,327.95 249.31,328.44 250.51,328.94 251.69,329.45 252.86,329.98 254.01,330.52 255.14,331.08 256.26,331.64 257.36,332.22 258.44,332.81 259.51,333.41 260.55,334.02 261.58,334.64 262.59,335.28 263.58,335.93 264.55,336.58 265.50,337.25 266.42,337.93 267.33,338.63 268.22,339.33 269.09,340.04 269.93,340.77 270.76,341.50 271.56,342.25 272.34,343.01 273.10,343.77 273.83,344.55 274.54,345.34 275.23,346.14 275.90,346.94 276.54,347.76 277.16,348.59 277.75,349.43 278.32,350.28 278.87,351.13 279.39,352.00 279.89,352.88 280.37,353.77 280.81,354.67 281.24,355.58 281.64,356.50 282.01,357.43 282.36,358.38 282.68,359.33 282.98,360.30 283.25,361.28 283.50,362.27 283.72,363.28 283.91,364.31 284.08,365.35 284.22,366.42 284.34,367.51 284.43,368.64 284.50,369.81 284.54,371.04" fill="#fff" stroke="#000" stroke-width="1"/>
<rect x="142.5" y="367.5" width="119" height="36" fill="#fff" stroke="#000"/>
<rect x="147" y="375" width="11" height="21" fill="#000"/>
<rect x="161" y="375" width="11" height="21" fill="#000"/>
<rect x="174" y="375" width="11" height="21" fill="#000"/>
<rect x="187" y="375" width="11" height="21" fill="#000"/>
<rect x="199" y="375" width="11" height="21" fill="#000"/>
<rect x="213" y="375" width="11" height="21" fill="#000"/>
<rect x="226" y="375" width="11" height="21" fill="#000"/>
<rect x="239.5" y="375.5" width="10" height="20" fill="none" stroke="#000"/>
<circle cx="255.5" cy="399.3" r="4.2" fill="#fff" stroke="#000"/>
</g>
<text transform="translate(157.5,344.5) scale(0.75,1)" font-size="14" textLength="114.00" lengthAdjust="spacing">Detail of SW1</text>
<text transform="translate(143,362.5) scale(0.75,1)" font-size="14" textLength="18.67" lengthAdjust="spacing">S8</text>
<text transform="translate(248.5,362.5) scale(0.75,1)" font-size="14" textLength="20.00" lengthAdjust="spacing">S1</text>
<g stroke="#000" stroke-width="1" shape-rendering="crispEdges" fill="#fff">
<polygon points="95.50,524.50 139.50,555.50 139.50,572.50 116.50,593.50 72.50,562.50 72.50,547.50"/>
<path fill="none" d="M72.5 547.5 L116.5 578.5 L139.5 555.5 M116.5 578.5 V593.5"/>
<path fill="none" d="M78.5 557.5 V562 L82.3 564.7 V559.2 L79.5 557.2 M78.50 556.50 L81.30 553.70 M82.30 559.20 L85.11 556.39 M73.50 562.30 L78.50 556.50"/>
<path fill="none" d="M86.5 564.8 V569.3 L90.3 572.0 V566.5 L87.5 564.5 M86.50 563.80 L90.27 560.03 M90.30 566.50 L94.08 562.72 M81.50 569.60 L86.50 563.80"/>
<path fill="none" d="M96.5 572.0 V576.5 L100.3 579.2 V573.7 L97.5 571.7 M96.50 571.00 L100.36 567.14 M100.30 573.70 L104.17 569.83 M91.50 576.80 L96.50 571.00"/>
<path fill="none" d="M106.5 579.2 V583.7 L110.3 586.4000000000001 V580.9000000000001 L107.5 578.9000000000001 M106.50 578.20 L110.45 574.25 M110.30 580.90 L114.26 576.94 M101.50 584.00 L106.50 578.20"/>
</g>
<g stroke="#000" stroke-width="1" shape-rendering="crispEdges" fill="#fff">
<polygon fill="none" points="166.50,471.50 321.50,583.50 321.50,601.50 296.50,626.50 141.50,514.50 141.50,498.50"/>
<path fill="none" d="M141.5 498.5 L296.5 610.5 L321.5 583.5 M296.5 610.5 V626.5 M141.5 514.5 L150.5 505.5"/>
</g>
<g shape-rendering="crispEdges">
<polygon points="175.50,477.80 184.50,469.10 186.50,470.10 186.50,478.20 185.00,484.30 181.50,482.14" fill="#fff" stroke="#000" stroke-width="1"/>
<polygon points="179.50,478.80 185.50,472.80 185.50,479.30 183.50,481.80" fill="url(#dith)" stroke="#000" stroke-width="1"/>
<path d="M186.10 470.30 V478.80" stroke="#000" stroke-width="1.2" fill="none"/>
<polygon points="181.50,482.14 190.50,473.44 192.50,474.44 192.50,482.54 191.00,488.64 187.50,486.48" fill="#fff" stroke="#000" stroke-width="1"/>
<polygon points="185.50,483.14 191.50,477.14 191.50,483.64 189.50,486.14" fill="url(#dith)" stroke="#000" stroke-width="1"/>
<path d="M192.10 474.64 V483.14" stroke="#000" stroke-width="1.2" fill="none"/>
<polygon points="187.50,486.48 196.50,477.78 198.50,478.78 198.50,486.88 197.00,492.98 193.50,490.82" fill="#fff" stroke="#000" stroke-width="1"/>
<polygon points="191.50,487.48 197.50,481.48 197.50,487.98 195.50,490.48" fill="url(#dith)" stroke="#000" stroke-width="1"/>
<path d="M198.10 478.98 V487.48" stroke="#000" stroke-width="1.2" fill="none"/>
<polygon points="193.50,490.82 202.50,482.12 204.50,483.12 204.50,491.22 203.00,497.32 199.50,495.16" fill="#fff" stroke="#000" stroke-width="1"/>
<polygon points="197.50,491.82 203.50,485.82 203.50,492.32 201.50,494.82" fill="url(#dith)" stroke="#000" stroke-width="1"/>
<path d="M204.10 483.32 V491.82" stroke="#000" stroke-width="1.2" fill="none"/>
<polygon points="199.50,495.16 208.50,486.46 210.50,487.46 210.50,495.56 209.00,501.66 205.50,499.50" fill="#fff" stroke="#000" stroke-width="1"/>
<polygon points="203.50,496.16 209.50,490.16 209.50,496.66 207.50,499.16" fill="url(#dith)" stroke="#000" stroke-width="1"/>
<path d="M210.10 487.66 V496.16" stroke="#000" stroke-width="1.2" fill="none"/>
<polygon points="205.50,499.50 214.50,490.80 216.50,491.80 216.50,499.90 215.00,506.00 211.50,503.84" fill="#fff" stroke="#000" stroke-width="1"/>
<polygon points="209.50,500.50 215.50,494.50 215.50,501.00 213.50,503.50" fill="url(#dith)" stroke="#000" stroke-width="1"/>
<path d="M216.10 492.00 V500.50" stroke="#000" stroke-width="1.2" fill="none"/>
<polygon points="211.50,503.84 220.50,495.14 222.50,496.14 222.50,504.24 221.00,510.34 217.50,508.18" fill="#fff" stroke="#000" stroke-width="1"/>
<polygon points="215.50,504.84 221.50,498.84 221.50,505.34 219.50,507.84" fill="url(#dith)" stroke="#000" stroke-width="1"/>
<path d="M222.10 496.34 V504.84" stroke="#000" stroke-width="1.2" fill="none"/>
<polygon points="217.50,508.18 226.50,499.48 228.50,500.48 228.50,508.58 227.00,514.68 223.50,512.52" fill="#fff" stroke="#000" stroke-width="1"/>
<polygon points="221.50,509.18 227.50,503.18 227.50,509.68 225.50,512.18" fill="url(#dith)" stroke="#000" stroke-width="1"/>
<path d="M228.10 500.68 V509.18" stroke="#000" stroke-width="1.2" fill="none"/>
<polygon points="223.50,512.52 232.50,503.82 234.50,504.82 234.50,512.92 233.00,519.02 229.50,516.86" fill="#fff" stroke="#000" stroke-width="1"/>
<polygon points="227.50,513.52 233.50,507.52 233.50,514.02 231.50,516.52" fill="url(#dith)" stroke="#000" stroke-width="1"/>
<path d="M234.10 505.02 V513.52" stroke="#000" stroke-width="1.2" fill="none"/>
<polygon points="229.50,516.86 238.50,508.16 240.50,509.16 240.50,517.26 239.00,523.36 235.50,521.20" fill="#fff" stroke="#000" stroke-width="1"/>
<polygon points="233.50,517.86 239.50,511.86 239.50,518.36 237.50,520.86" fill="url(#dith)" stroke="#000" stroke-width="1"/>
<path d="M240.10 509.36 V517.86" stroke="#000" stroke-width="1.2" fill="none"/>
<polygon points="235.50,521.20 244.50,512.50 246.50,513.50 246.50,521.60 245.00,527.70 241.50,525.54" fill="#fff" stroke="#000" stroke-width="1"/>
<polygon points="239.50,522.20 245.50,516.20 245.50,522.70 243.50,525.20" fill="url(#dith)" stroke="#000" stroke-width="1"/>
<path d="M246.10 513.70 V522.20" stroke="#000" stroke-width="1.2" fill="none"/>
<polygon points="241.50,525.54 250.50,516.84 252.50,517.84 252.50,525.94 251.00,532.04 247.50,529.88" fill="#fff" stroke="#000" stroke-width="1"/>
<polygon points="245.50,526.54 251.50,520.54 251.50,527.04 249.50,529.54" fill="url(#dith)" stroke="#000" stroke-width="1"/>
<path d="M252.10 518.04 V526.54" stroke="#000" stroke-width="1.2" fill="none"/>
<polygon points="247.50,529.88 256.50,521.18 258.50,522.18 258.50,530.28 257.00,536.38 253.50,534.22" fill="#fff" stroke="#000" stroke-width="1"/>
<polygon points="251.50,530.88 257.50,524.88 257.50,531.38 255.50,533.88" fill="url(#dith)" stroke="#000" stroke-width="1"/>
<path d="M258.10 522.38 V530.88" stroke="#000" stroke-width="1.2" fill="none"/>
<polygon points="253.50,534.22 262.50,525.52 264.50,526.52 264.50,534.62 263.00,540.72 259.50,538.56" fill="#fff" stroke="#000" stroke-width="1"/>
<polygon points="257.50,535.22 263.50,529.22 263.50,535.72 261.50,538.22" fill="url(#dith)" stroke="#000" stroke-width="1"/>
<path d="M264.10 526.72 V535.22" stroke="#000" stroke-width="1.2" fill="none"/>
<polygon points="259.50,538.56 268.50,529.86 270.50,530.86 270.50,538.96 269.00,545.06 265.50,542.90" fill="#fff" stroke="#000" stroke-width="1"/>
<polygon points="263.50,539.56 269.50,533.56 269.50,540.06 267.50,542.56" fill="url(#dith)" stroke="#000" stroke-width="1"/>
<path d="M270.10 531.06 V539.56" stroke="#000" stroke-width="1.2" fill="none"/>
<polygon points="265.50,542.90 274.50,534.20 276.50,535.20 276.50,543.30 275.00,549.40 271.50,547.24" fill="#fff" stroke="#000" stroke-width="1"/>
<polygon points="269.50,543.90 275.50,537.90 275.50,544.40 273.50,546.90" fill="url(#dith)" stroke="#000" stroke-width="1"/>
<path d="M276.10 535.40 V543.90" stroke="#000" stroke-width="1.2" fill="none"/>
<polygon points="271.50,547.24 280.50,538.54 282.50,539.54 282.50,547.64 281.00,553.74 277.50,551.58" fill="#fff" stroke="#000" stroke-width="1"/>
<polygon points="275.50,548.24 281.50,542.24 281.50,548.74 279.50,551.24" fill="url(#dith)" stroke="#000" stroke-width="1"/>
<path d="M282.10 539.74 V548.24" stroke="#000" stroke-width="1.2" fill="none"/>
<polygon points="277.50,551.58 286.50,542.88 288.50,543.88 288.50,551.98 287.00,558.08 283.50,555.92" fill="#fff" stroke="#000" stroke-width="1"/>
<polygon points="281.50,552.58 287.50,546.58 287.50,553.08 285.50,555.58" fill="url(#dith)" stroke="#000" stroke-width="1"/>
<path d="M288.10 544.08 V552.58" stroke="#000" stroke-width="1.2" fill="none"/>
<polygon points="283.50,555.92 292.50,547.22 294.50,548.22 294.50,556.32 293.00,562.42 289.50,560.26" fill="#fff" stroke="#000" stroke-width="1"/>
<polygon points="287.50,556.92 293.50,550.92 293.50,557.42 291.50,559.92" fill="url(#dith)" stroke="#000" stroke-width="1"/>
<path d="M294.10 548.42 V556.92" stroke="#000" stroke-width="1.2" fill="none"/>
<polygon points="289.50,560.26 298.50,551.56 300.50,552.56 300.50,560.66 299.00,566.76 295.50,564.60" fill="#fff" stroke="#000" stroke-width="1"/>
<polygon points="293.50,561.26 299.50,555.26 299.50,561.76 297.50,564.26" fill="url(#dith)" stroke="#000" stroke-width="1"/>
<path d="M300.10 552.76 V561.26" stroke="#000" stroke-width="1.2" fill="none"/>
<polygon points="295.50,564.60 304.50,555.90 306.50,556.90 306.50,565.00 305.00,571.10 301.50,568.94" fill="#fff" stroke="#000" stroke-width="1"/>
<polygon points="299.50,565.60 305.50,559.60 305.50,566.10 303.50,568.60" fill="url(#dith)" stroke="#000" stroke-width="1"/>
<path d="M306.10 557.10 V565.60" stroke="#000" stroke-width="1.2" fill="none"/>
<polygon points="301.50,568.94 310.50,560.24 312.50,561.24 312.50,569.34 311.00,575.44 307.50,573.28" fill="#fff" stroke="#000" stroke-width="1"/>
<polygon points="305.50,569.94 311.50,563.94 311.50,570.44 309.50,572.94" fill="url(#dith)" stroke="#000" stroke-width="1"/>
<path d="M312.10 561.44 V569.94" stroke="#000" stroke-width="1.2" fill="none"/>
<polygon points="307.50,573.28 316.50,564.58 318.50,565.58 318.50,573.68 317.00,579.78 313.50,577.62" fill="#fff" stroke="#000" stroke-width="1"/>
<polygon points="311.50,574.28 317.50,568.28 317.50,574.78 315.50,577.28" fill="url(#dith)" stroke="#000" stroke-width="1"/>
<path d="M318.10 565.78 V574.28" stroke="#000" stroke-width="1.2" fill="none"/>
<polygon points="313.50,577.62 322.50,568.92 324.50,569.92 324.50,578.02 323.00,584.12 319.50,581.96" fill="#fff" stroke="#000" stroke-width="1"/>
<polygon points="317.50,578.62 323.50,572.62 323.50,579.12 321.50,581.62" fill="url(#dith)" stroke="#000" stroke-width="1"/>
<path d="M324.10 570.12 V578.62" stroke="#000" stroke-width="1.2" fill="none"/>
<polygon points="319.50,581.96 328.50,573.26 330.50,574.26 330.50,582.36 329.00,588.46 325.50,586.30" fill="#fff" stroke="#000" stroke-width="1"/>
<polygon points="323.50,582.96 329.50,576.96 329.50,583.46 327.50,585.96" fill="url(#dith)" stroke="#000" stroke-width="1"/>
<path d="M330.10 574.46 V582.96" stroke="#000" stroke-width="1.2" fill="none"/>
</g>
<g shape-rendering="crispEdges">
<polygon points="150.00,505.50 153.00,507.67 146.50,514.17 143.50,512.00" fill="#fff" stroke="#000" stroke-width="1"/>
<path d="M143.50 512.00 L143.00 514.00 L146.00 515.50 L146.50 514.17" stroke="#000" stroke-width="1.2" fill="none"/>
<polygon points="155.90,509.77 158.90,511.93 152.40,518.43 149.40,516.27" fill="url(#dith)" stroke="#000" stroke-width="1"/>
<path d="M149.40 516.27 L148.90 518.27 L151.90 519.77 L152.40 518.43" stroke="#000" stroke-width="1.2" fill="none"/>
<polygon points="161.80,514.03 164.80,516.20 158.30,522.70 155.30,520.53" fill="#fff" stroke="#000" stroke-width="1"/>
<path d="M155.30 520.53 L154.80 522.53 L157.80 524.03 L158.30 522.70" stroke="#000" stroke-width="1.2" fill="none"/>
<polygon points="167.70,518.29 170.70,520.46 164.20,526.96 161.20,524.79" fill="#fff" stroke="#000" stroke-width="1"/>
<path d="M161.20 524.79 L160.70 526.79 L163.70 528.29 L164.20 526.96" stroke="#000" stroke-width="1.2" fill="none"/>
<polygon points="173.60,522.56 176.60,524.72 170.10,531.22 167.10,529.06" fill="url(#dith)" stroke="#000" stroke-width="1"/>
<path d="M167.10 529.06 L166.60 531.06 L169.60 532.56 L170.10 531.22" stroke="#000" stroke-width="1.2" fill="none"/>
<polygon points="179.50,526.82 182.50,528.99 176.00,535.49 173.00,533.32" fill="#fff" stroke="#000" stroke-width="1"/>
<path d="M173.00 533.32 L172.50 535.32 L175.50 536.82 L176.00 535.49" stroke="#000" stroke-width="1.2" fill="none"/>
<polygon points="185.40,531.08 188.40,533.25 181.90,539.75 178.90,537.58" fill="#fff" stroke="#000" stroke-width="1"/>
<path d="M178.90 537.58 L178.40 539.58 L181.40 541.08 L181.90 539.75" stroke="#000" stroke-width="1.2" fill="none"/>
<polygon points="191.30,535.35 194.30,537.51 187.80,544.01 184.80,541.85" fill="url(#dith)" stroke="#000" stroke-width="1"/>
<path d="M184.80 541.85 L184.30 543.85 L187.30 545.35 L187.80 544.01" stroke="#000" stroke-width="1.2" fill="none"/>
<polygon points="197.20,539.61 200.20,541.78 193.70,548.28 190.70,546.11" fill="#fff" stroke="#000" stroke-width="1"/>
<path d="M190.70 546.11 L190.20 548.11 L193.20 549.61 L193.70 548.28" stroke="#000" stroke-width="1.2" fill="none"/>
<polygon points="203.10,543.87 206.10,546.04 199.60,552.54 196.60,550.37" fill="#fff" stroke="#000" stroke-width="1"/>
<path d="M196.60 550.37 L196.10 552.37 L199.10 553.87 L199.60 552.54" stroke="#000" stroke-width="1.2" fill="none"/>
<polygon points="209.00,548.14 212.00,550.30 205.50,556.80 202.50,554.64" fill="url(#dith)" stroke="#000" stroke-width="1"/>
<path d="M202.50 554.64 L202.00 556.64 L205.00 558.14 L205.50 556.80" stroke="#000" stroke-width="1.2" fill="none"/>
<polygon points="214.90,552.40 217.90,554.57 211.40,561.07 208.40,558.90" fill="#fff" stroke="#000" stroke-width="1"/>
<path d="M208.40 558.90 L207.90 560.90 L210.90 562.40 L211.40 561.07" stroke="#000" stroke-width="1.2" fill="none"/>
<polygon points="220.80,556.66 223.80,558.83 217.30,565.33 214.30,563.16" fill="#fff" stroke="#000" stroke-width="1"/>
<path d="M214.30 563.16 L213.80 565.16 L216.80 566.66 L217.30 565.33" stroke="#000" stroke-width="1.2" fill="none"/>
<polygon points="226.70,560.93 229.70,563.09 223.20,569.59 220.20,567.43" fill="url(#dith)" stroke="#000" stroke-width="1"/>
<path d="M220.20 567.43 L219.70 569.43 L222.70 570.93 L223.20 569.59" stroke="#000" stroke-width="1.2" fill="none"/>
<polygon points="232.60,565.19 235.60,567.36 229.10,573.86 226.10,571.69" fill="#fff" stroke="#000" stroke-width="1"/>
<path d="M226.10 571.69 L225.60 573.69 L228.60 575.19 L229.10 573.86" stroke="#000" stroke-width="1.2" fill="none"/>
<polygon points="238.50,569.45 241.50,571.62 235.00,578.12 232.00,575.95" fill="#fff" stroke="#000" stroke-width="1"/>
<path d="M232.00 575.95 L231.50 577.95 L234.50 579.45 L235.00 578.12" stroke="#000" stroke-width="1.2" fill="none"/>
<polygon points="244.40,573.72 247.40,575.88 240.90,582.38 237.90,580.22" fill="url(#dith)" stroke="#000" stroke-width="1"/>
<path d="M237.90 580.22 L237.40 582.22 L240.40 583.72 L240.90 582.38" stroke="#000" stroke-width="1.2" fill="none"/>
<polygon points="250.30,577.98 253.30,580.15 246.80,586.65 243.80,584.48" fill="#fff" stroke="#000" stroke-width="1"/>
<path d="M243.80 584.48 L243.30 586.48 L246.30 587.98 L246.80 586.65" stroke="#000" stroke-width="1.2" fill="none"/>
<polygon points="256.20,582.24 259.20,584.41 252.70,590.91 249.70,588.74" fill="#fff" stroke="#000" stroke-width="1"/>
<path d="M249.70 588.74 L249.20 590.74 L252.20 592.24 L252.70 590.91" stroke="#000" stroke-width="1.2" fill="none"/>
<polygon points="262.10,586.51 265.10,588.67 258.60,595.17 255.60,593.01" fill="url(#dith)" stroke="#000" stroke-width="1"/>
<path d="M255.60 593.01 L255.10 595.01 L258.10 596.51 L258.60 595.17" stroke="#000" stroke-width="1.2" fill="none"/>
<polygon points="268.00,590.77 271.00,592.94 264.50,599.44 261.50,597.27" fill="#fff" stroke="#000" stroke-width="1"/>
<path d="M261.50 597.27 L261.00 599.27 L264.00 600.77 L264.50 599.44" stroke="#000" stroke-width="1.2" fill="none"/>
<polygon points="273.90,595.03 276.90,597.20 270.40,603.70 267.40,601.53" fill="#fff" stroke="#000" stroke-width="1"/>
<path d="M267.40 601.53 L266.90 603.53 L269.90 605.03 L270.40 603.70" stroke="#000" stroke-width="1.2" fill="none"/>
<polygon points="279.80,599.30 282.80,601.46 276.30,607.96 273.30,605.80" fill="url(#dith)" stroke="#000" stroke-width="1"/>
<path d="M273.30 605.80 L272.80 607.80 L275.80 609.30 L276.30 607.96" stroke="#000" stroke-width="1.2" fill="none"/>
<polygon points="285.70,603.56 288.70,605.73 282.20,612.23 279.20,610.06" fill="#fff" stroke="#000" stroke-width="1"/>
<path d="M279.20 610.06 L278.70 612.06 L281.70 613.56 L282.20 612.23" stroke="#000" stroke-width="1.2" fill="none"/>
<polygon points="291.60,607.82 294.60,609.99 288.10,616.49 285.10,614.32" fill="#fff" stroke="#000" stroke-width="1"/>
<path d="M285.10 614.32 L284.60 616.32 L287.60 617.82 L288.10 616.49" stroke="#000" stroke-width="1.2" fill="none"/>
</g>
<g stroke="#000" stroke-width="1" shape-rendering="crispEdges" fill="#fff">
<polygon points="260.50,609.50 299.50,640.50 299.50,651.50 287.50,664.50 247.50,633.50 247.50,620.50"/>
<path fill="none" d="M247.5 620.5 L287.5 652.5 L299.5 640.5 M287.5 652.5 V664.5"/>
</g>
<polygon points="247.50,620.50 287.50,652.50 287.50,664.50 247.50,633.50" fill="url(#dith)" stroke="#000" stroke-width="1.5" shape-rendering="crispEdges"/>
<polygon points="248.80,622.64 251.80,625.04 251.80,632.64 248.80,630.24" fill="#fff" stroke="#000" stroke-width="1" shape-rendering="crispEdges"/>
<polygon points="249.50,626.64 251.30,628.04 251.30,630.04 249.50,628.64" fill="#000" shape-rendering="crispEdges"/>
<polygon points="253.70,626.56 256.70,628.96 256.70,636.56 253.70,634.16" fill="#fff" stroke="#000" stroke-width="1" shape-rendering="crispEdges"/>
<polygon points="254.40,630.56 256.20,631.96 256.20,633.96 254.40,632.56" fill="#000" shape-rendering="crispEdges"/>
<polygon points="258.60,630.48 261.60,632.88 261.60,640.48 258.60,638.08" fill="#fff" stroke="#000" stroke-width="1" shape-rendering="crispEdges"/>
<polygon points="259.30,634.48 261.10,635.88 261.10,637.88 259.30,636.48" fill="#000" shape-rendering="crispEdges"/>
<polygon points="263.50,634.40 266.50,636.80 266.50,644.40 263.50,642.00" fill="#fff" stroke="#000" stroke-width="1" shape-rendering="crispEdges"/>
<polygon points="264.20,638.40 266.00,639.80 266.00,641.80 264.20,640.40" fill="#000" shape-rendering="crispEdges"/>
<polygon points="269.20,638.96 272.20,641.36 272.20,648.96 269.20,646.56" fill="#fff" stroke="#000" stroke-width="1" shape-rendering="crispEdges"/>
<polygon points="269.90,642.96 271.70,644.36 271.70,646.36 269.90,644.96" fill="#000" shape-rendering="crispEdges"/>
<polygon points="274.10,642.88 277.10,645.28 277.10,652.88 274.10,650.48" fill="#fff" stroke="#000" stroke-width="1" shape-rendering="crispEdges"/>
<polygon points="274.80,646.88 276.60,648.28 276.60,650.28 274.80,648.88" fill="#000" shape-rendering="crispEdges"/>
<polygon points="279.00,646.80 282.00,649.20 282.00,656.80 279.00,654.40" fill="#fff" stroke="#000" stroke-width="1" shape-rendering="crispEdges"/>
<polygon points="279.70,650.80 281.50,652.20 281.50,654.20 279.70,652.80" fill="#000" shape-rendering="crispEdges"/>
<polygon points="283.90,650.72 286.90,653.12 286.90,660.72 283.90,658.32" fill="#fff" stroke="#000" stroke-width="1" shape-rendering="crispEdges"/>
<polygon points="284.60,654.72 286.40,656.12 286.40,658.12 284.60,656.72" fill="#000" shape-rendering="crispEdges"/>
<path d="M266.8 636 V648" stroke="#fff" stroke-width="1" shape-rendering="crispEdges"/>
<g stroke="#000" stroke-width="1" shape-rendering="crispEdges" fill="#fff">
<path fill="none" d="M130.5 509.5 L137.5 502.5 L141.5 505.5 M130.5 509.5 V519.5 M130.5 509.5 L153.5 525.5"/>
</g>
<polygon points="114.50,537.00 136.00,516.50 139.50,519.50 118.00,540.00" fill="#fff" stroke="#000" shape-rendering="crispEdges"/>
<polygon points="116.70,538.40 137.50,518.40 138.70,519.60 117.90,539.60" fill="url(#dith)" stroke="none" shape-rendering="crispEdges"/>
<path d="M116.10 537.90 L137.10 517.90" stroke="#000" stroke-width="1" fill="none" shape-rendering="crispEdges"/>
<path d="M113.50 538.00 L116.50 541.00" stroke="#000" stroke-width="1.6" fill="none"/>
<polygon points="120.60,543.00 142.10,522.50 145.60,525.50 124.10,546.00" fill="#fff" stroke="#000" shape-rendering="crispEdges"/>
<polygon points="122.80,544.40 143.60,524.40 144.80,525.60 124.00,545.60" fill="url(#dith)" stroke="none" shape-rendering="crispEdges"/>
<path d="M122.20 543.90 L143.20 523.90" stroke="#000" stroke-width="1" fill="none" shape-rendering="crispEdges"/>
<path d="M119.60 544.00 L122.60 547.00" stroke="#000" stroke-width="1.6" fill="none"/>
<polygon points="126.70,549.00 148.20,528.50 151.70,531.50 130.20,552.00" fill="#fff" stroke="#000" shape-rendering="crispEdges"/>
<polygon points="128.90,550.40 149.70,530.40 150.90,531.60 130.10,551.60" fill="url(#dith)" stroke="none" shape-rendering="crispEdges"/>
<path d="M128.30 549.90 L149.30 529.90" stroke="#000" stroke-width="1" fill="none" shape-rendering="crispEdges"/>
<path d="M125.70 550.00 L128.70 553.00" stroke="#000" stroke-width="1.6" fill="none"/>
<g stroke="#000" stroke-width="1" shape-rendering="crispEdges" fill="#fff">
<polygon points="143.50,543.50 149.50,538.50 192.50,567.30 192.50,571.30 186.50,576.30 143.50,547.50"/>
<path fill="none" d="M143.5 543.5 L186.5 572.3 L192.5 567.3 M186.5 572.3 V576.3"/>
<polygon points="144.50,554.50 148.50,551.50 188.50,578.30 188.50,582.30 184.50,585.30 144.50,558.50"/>
<path fill="none" d="M144.5 554.5 L184.5 581.3 L188.5 578.3 M184.5 581.3 V585.3"/>
</g>
<path d="M157.5 568.5 V575 L161 572 M164.5 574 V581 L168 578" stroke="#000" fill="none" shape-rendering="crispEdges"/>
<polygon points="150.50,535.50 152.50,534.00 153.00,536.50 154.50,537.66 156.50,536.16 157.00,538.66 158.50,539.82 160.50,538.32 161.00,540.82 162.50,541.98 164.50,540.48 165.00,542.98 166.50,544.14 168.50,542.64 169.00,545.14 170.50,546.30 172.50,544.80 173.00,547.30 174.50,548.46 176.50,546.96 177.00,549.46 178.50,550.62 180.50,549.12 181.00,551.62 182.50,552.78 184.50,551.28 185.00,553.78 186.50,554.94 188.50,553.44 189.00,555.94 190.50,557.10 192.50,555.60 193.00,558.10 193.00,558.00 194.00,565.00 191.00,569.50 147.00,540.50" fill="#000" stroke="#000" shape-rendering="crispEdges"/>
<path d="M150 540 L190 567" stroke="#fff" stroke-width="1" stroke-dasharray="2 2.5" fill="none" shape-rendering="crispEdges"/>
<path d="M189.5 560 L192 563 L195 560 M192 563 V567" stroke="#fff" fill="none" shape-rendering="crispEdges"/>
<polygon points="137.00,552.00 141.50,549.50 140.00,554.50" fill="#000" stroke="#000" stroke-width="0.8"/>
<polygon points="141.00,555.50 146.00,551.50 143.50,557.00" fill="#000" stroke="#000" stroke-width="0.8"/>
<polygon points="136.00,562.50 141.50,560.00 139.50,564.50" fill="#000" stroke="#000" stroke-width="0.8"/>
<polygon points="141.50,566.00 145.50,562.50 144.50,570.00" fill="#000" stroke="#000" stroke-width="0.8"/>
<path d="M139.5 553 V563 M139.5 566 V572" stroke="#000" fill="none" shape-rendering="crispEdges"/>
<polygon points="141.50,594.00 163.00,571.50 166.50,574.50 145.00,597.00" fill="#fff" stroke="#000" shape-rendering="crispEdges"/>
<polygon points="151.50,585.50 163.50,572.50 166.00,575.00 154.00,588.00" fill="url(#dith)" stroke="none" shape-rendering="crispEdges"/>
<path d="M143 594.5 L163.5 573" stroke="#000" stroke-width="1" fill="none" shape-rendering="crispEdges"/>
<path d="M86 489 H116 L118 491 V504 L116 506 H86 L84 504 V491 Z" fill="#fff" stroke="#000" stroke-width="2" shape-rendering="crispEdges"/>
<polygon points="126.70,517.50 115.00,505.50 118.00,503.00" fill="#fff" stroke="none"/>
<path d="M115 505.5 L126.7 517.5 L118 503" fill="none" stroke="#000" stroke-width="2.6" stroke-linejoin="miter"/>
<text transform="translate(89.9,501.7) scale(0.75,1)" font-size="14" textLength="28.67" lengthAdjust="spacing">JP1</text>
<path d="M4 591 H79 L81 593 V605 L79 607 H4 L2 605 V593 Z" fill="#fff" stroke="#000" stroke-width="2" shape-rendering="crispEdges"/>
<polygon points="90.50,580.00 78.50,590.50 81.00,593.50" fill="#fff" stroke="none"/>
<path d="M78.5 590.5 L90.5 580 L81 593.5" fill="none" stroke="#000" stroke-width="2.6" stroke-linejoin="miter"/>
<text transform="translate(5.3,602.3) scale(0.75,1)" font-size="14" textLength="94.67" lengthAdjust="spacing">DC POWER</text>
<path d="M102 610 H131 L133 612 V623 L131 625 H102 L100 623 V612 Z" fill="#fff" stroke="#000" stroke-width="2" shape-rendering="crispEdges"/>
<polygon points="142.50,596.50 130.00,609.80 133.00,612.50" fill="#fff" stroke="none"/>
<path d="M130 609.8 L142.5 596.5 L133 612.5" fill="none" stroke="#000" stroke-width="2.6" stroke-linejoin="miter"/>
<text transform="translate(105,622.7) scale(0.75,1)" font-size="14" textLength="30.67" lengthAdjust="spacing">JP2</text>
<path d="M147 604 H244 L246 606 V618 L244 620 H147 L145 618 V606 Z" fill="#fff" stroke="#000" stroke-width="2" shape-rendering="crispEdges"/>
<polygon points="179.50,586.00 174.50,603.50 187.50,603.50" fill="#fff" stroke="none"/>
<path d="M174.5 603.5 L179.5 586 L187.5 603.5" fill="none" stroke="#000" stroke-width="2.6" stroke-linejoin="miter"/>
<polygon points="194.5,566 207.5,604 218.5,604" fill="#fff"/>
<path d="M194.5 566.5 L207.5 603.5 M195 565.5 L218.5 603.5" fill="none" stroke="#000" stroke-width="2.2"/>
<text transform="translate(148,616.2) scale(0.75,1)" font-size="14" textLength="124.67" lengthAdjust="spacing">TERMINATORS</text>
<path d="M244 506 H319 L321 508 V520 L319 522 H244 L242 520 V508 Z" fill="#fff" stroke="#000" stroke-width="2" shape-rendering="crispEdges"/>
<path d="M242 523 L231.7 534" fill="none" stroke="#000" stroke-width="2.4"/>
<text transform="translate(243.8,518.8) scale(0.75,1)" font-size="14" textLength="95.73" lengthAdjust="spacing">INTERFACE</text>
<path d="M226 662 H254 L256 664 V674 L254 676 H226 L224 674 V664 Z" fill="#fff" stroke="#000" stroke-width="2" shape-rendering="crispEdges"/>
<polygon points="265.50,648.70 254.00,661.20 256.50,664.00" fill="#fff" stroke="none"/>
<path d="M254 661.2 L265.5 648.7 L256.5 664" fill="none" stroke="#000" stroke-width="2.6" stroke-linejoin="miter"/>
<text transform="translate(225.2,673.5) scale(0.75,1)" font-size="14" textLength="35.33" lengthAdjust="spacing">SW1</text>
<text transform="translate(695,762.8) scale(0.85,1)" font-size="12" textLength="41.18" lengthAdjust="spacing">70058</text>
</svg>
</body></html>
